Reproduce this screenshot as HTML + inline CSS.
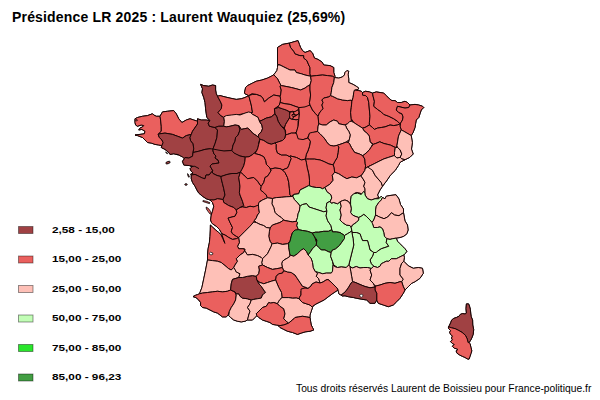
<!DOCTYPE html>
<html><head><meta charset="utf-8"><style>
html,body{margin:0;padding:0;background:#fff;width:600px;height:400px;overflow:hidden}
body{position:relative;font-family:"Liberation Sans",sans-serif}
.t{position:absolute;left:12px;top:9px;font-size:14px;letter-spacing:0.17px;font-weight:bold;color:#000;white-space:nowrap}
.f{position:absolute;left:296px;top:383px;font-size:10.3px;color:#000;white-space:nowrap}
.lg{position:absolute;left:52px;font-size:9.8px;font-weight:bold;color:#000;white-space:nowrap;transform:scaleX(1.2);transform-origin:0 0}
svg{position:absolute;left:0;top:0}
</style></head><body>
<svg width="600" height="400" viewBox="0 0 600 400">
<g stroke="#1a0505" stroke-width="1" stroke-linejoin="round">
<g fill="#000"><path d="M135,118.75 L137.5,117.5 L142.5,116.25 L147.5,115.6 L152.5,113.75 L153.75,115 L156.25,116.25 L160,116.25 L160.6,120 L161.25,126.25 L161.25,131.25 L158.1,134.4 L159.4,137.5 L161.9,140 L163.1,142.5 L161.9,145.6 L158.75,145 L155,144.4 L151.25,143.1 L147.5,142.5 L145,140 L142.5,137.5 L137.5,135.6 L135,135 L140,134.4 L144.4,133.75 L145,131.25 L141.9,129.4 L138.75,130 L140,128.1 L142.5,126.9 L143.75,125.6 L141.25,125 L137.5,126.25 L135.6,125 L135,122.5Z"/><path d="M160,116.25 L162.5,111.9 L167.5,111.25 L173.75,110.6 L176.25,113.75 L178.75,118.75 L181.9,122.5 L186.25,120 L190,118.75 L193.75,120 L197.5,121.25 L197.5,124 L192.5,131.25 L191.25,134.4 L186.25,135.6 L182.5,138.1 L177.5,136.25 L172.5,134.4 L165,133.1 L160,133.75 L158.1,134.4 L161.25,131.25 L161.25,126.25 L160.6,120Z"/><path d="M158.1,134.4 L160,133.75 L165,133.1 L172.5,134.4 L177.5,136.25 L182.5,138.1 L186.25,135.6 L191.25,134.4 L190,137.5 L190.6,140.6 L193.1,143.75 L193.75,148.75 L193.1,151.9 L192.5,156.25 L188.75,158.1 L185,157.5 L184.4,158.75 L182.5,156.9 L178.75,155 L173.75,153.75 L170,154.4 L168.75,152.5 L165,149.4 L161.25,147.5 L161.9,145.6 L163.1,142.5 L161.9,140 L159.4,137.5Z"/><path d="M197.5,118.75 L201.25,120 L206.25,120 L210,120.6 L208.1,123.1 L209.4,126.25 L215,127.5 L217.5,130 L216.9,137.5 L215,143.75 L212.5,150 L210,148.75 L205,149.4 L198.75,151.25 L193.1,152.5 L193.75,148.75 L193.1,143.75 L190.6,140.6 L190,137.5 L191.25,134.4 L192.5,131.25 L197.5,124Z"/><path d="M200.6,84.4 L203.75,85.6 L208.75,86.25 L212.5,85 L215.6,85.6 L215.6,90 L216.25,93.75 L217.5,96.25 L220.6,101.9 L221.9,105 L221.25,108.75 L218.1,112.5 L220,115 L223.75,117.5 L224.4,121.25 L223.75,126.25 L218.75,126.25 L215,127.5 L209.4,126.25 L208.1,123.1 L210,120.6 L206.9,117.5 L206.25,113.75 L205.6,108.75 L205,102.5 L203.75,97.5 L201.9,92.5 L202.5,88.75Z"/><path d="M217.5,96.25 L220,95.6 L225,96.9 L230,98.1 L236.25,99.4 L241.25,98.75 L245,97.5 L248.75,95.6 L251.25,105 L252.5,112.5 L250,112.5 L246.25,113.1 L240,114.4 L233.75,115.6 L227.5,116.25 L223.75,117.5 L220,115 L218.1,112.5 L221.25,108.75 L221.9,105 L220.6,101.9Z"/><path d="M277.5,47.5 L282.5,44.4 L289.4,43.1 L290.6,47.5 L293.75,51.25 L295,53.75 L300,55.6 L303.75,55.6 L303.75,58.1 L306.9,60.6 L308.75,65 L310,67.5 L310,73.75 L310.6,76.25 L305,75 L301.25,73.75 L296.25,72.5 L295,70 L290,70 L287.5,68.75 L283.75,66.9 L280,65 L277.5,64.4 L277.5,56Z"/><path d="M289.4,43.1 L298,40.6 L299.4,44.4 L300.6,47.5 L302.5,50.6 L305,52.5 L310,50.6 L312.5,53 L314.4,58 L318,59.4 L322,62 L323.75,65 L330,65.6 L333.75,67.5 L333.75,72.5 L335,76.25 L334.4,77.5 L332.5,76.25 L327.5,75.6 L322.5,75 L316.25,75.6 L310.6,76.25 L310,73.75 L310,67.5 L308.75,65 L306.9,60.6 L303.75,58.1 L303.75,55.6 L300,55.6 L295,53.75 L293.75,51.25 L290.6,47.5Z"/><path d="M277.5,65 L280,65 L283.75,66.9 L287.5,68.75 L290,70 L295,70 L296.25,72.5 L301.25,73.75 L305,75 L310.6,76.25 L311.25,80.6 L310,85 L307.5,86.25 L305,88.1 L300.6,90 L296.25,88.75 L291.25,87.5 L285,86.25 L281.25,85.6 L280,83.75 L277.5,78.75 L273.75,74.75 L276.9,70.6 L277.5,67.5Z"/><path d="M244.4,93.1 L245.6,87.5 L247.5,85.6 L252.5,83.1 L256.25,81.25 L261.9,80 L267.5,78.1 L271.25,76.25 L273.75,74.75 L277.5,78.75 L280,83.75 L281.25,85.6 L280,86.25 L281.25,90 L280.6,95 L280,96.25 L273.75,95 L268.75,98.1 L264.4,101.9 L263.1,98.75 L261.25,96.25 L256.25,94.4 L251.9,93.75 L248.75,95.6 L245,93.75Z"/><path d="M281.25,85.6 L285,86.25 L291.25,87.5 L296.25,88.75 L300.6,90 L305,88.1 L307.5,86.25 L310,85 L310,90 L310.6,95 L310,100 L309.4,102.5 L310,106.25 L307.5,107.5 L302.5,108.1 L298.75,107.5 L295,106.25 L290,104.4 L285,103.75 L280,102.5 L280.6,99.4 L280,96.25 L280.6,95 L281.25,90 L280,86.25Z"/><path d="M248.75,95.6 L252.5,94.4 L256.25,94.4 L261.25,96.25 L263.1,98.75 L264.4,101.9 L268.75,98.1 L273.75,95 L280,96.25 L280.6,99.4 L280,102.5 L279.4,105 L278.1,106.25 L274.4,108.75 L275,113.75 L271.25,116.9 L266.25,118.1 L262.5,120 L259.4,121.25 L258.1,117.5 L255,115.6 L252.5,114.4 L250.6,112.5 L252.5,112.5 L251.25,105Z"/><path d="M223.75,116.9 L226.25,115.6 L231.25,115 L236.25,114.4 L240,115 L245,113.1 L248.75,111.9 L250.6,112.5 L252.5,114.4 L255,115.6 L258.1,117.5 L259.4,121.25 L261.9,125 L262.5,128.75 L261.25,131.9 L258.75,134.4 L258.1,136.9 L256.25,135.6 L252.5,133.1 L250,130 L247.5,128.1 L244.4,128.75 L241.25,129.4 L238.75,125.6 L235,125 L230,126.25 L226.25,126.9 L223.75,126.25 L224.4,121.25Z"/><path d="M218.75,126.25 L223.75,126.25 L226.25,126.9 L230,126.25 L235,125 L238.75,125.6 L240,130 L238.1,135 L235.6,137.5 L235,141.25 L233.1,145 L231.9,150.6 L230,150.6 L223.75,151.25 L217.5,150.6 L212.5,150 L215,143.75 L216.9,137.5 L217.5,130 L215,127.5Z"/><path d="M238.75,125.6 L241.25,129.4 L244.4,128.75 L247.5,128.1 L250,130 L252.5,133.1 L256.25,135.6 L258.1,136.9 L260,138.75 L258.75,142.5 L258.1,147.5 L256.25,151.25 L254.25,153 L252.75,154.5 L249,156.75 L245.25,157.1 L240,156 L236.25,154.5 L232.5,152.25 L231.9,150.6 L233.1,145 L235,141.25 L235.6,137.5 L238.1,135 L240,130Z"/><path d="M274.4,108.75 L278.75,107.5 L282.5,108.75 L286.25,110 L289.4,111.9 L290,115 L289.4,118.1 L287.5,121.25 L285.6,124.4 L284.4,128.1 L281.25,126.25 L278.1,121.25 L276.9,116.9 L275,113.75Z"/><path d="M279.4,105 L280,102.5 L285,103.75 L290,104.4 L295,106.25 L298.75,107.5 L298.1,110 L295,111.9 L292.5,111.25 L290,111.9 L286.25,110 L282.5,108.75 L278.75,107.5 L278.1,106.25Z"/><path d="M289.4,118.1 L292.5,119.3 L296,119.7 L299.2,119.5 L298.75,120 L298.1,121.25 L298.1,126.25 L296.9,131.25 L295,133.1 L291.25,133.1 L287.5,134.4 L285.6,135 L285.6,131.25 L284.4,128.1 L285.6,124.4 L287.5,121.25Z"/><path d="M290,112.2 L292,111.8 L293.5,112 L294,114 L293.6,117 L292.5,119.3 L290,118.5 L289.6,115.5Z"/><path d="M293.5,112 L295,111.5 L297,110.5 L298.7,109.5 L299,113 L297,115 L295.2,114.8 L294,114Z"/><path d="M293.6,117 L295,116.3 L297,115 L299,113.5 L299.3,116 L299.2,119.5 L296,119.7 L292.5,119.3Z"/><path d="M292,114.6 L294,114.2 L295.3,115 L294.8,116.3 L293,116.4 L291.8,115.6Z"/><path d="M298.75,107.5 L300,107.5 L305,106.9 L310,105 L312.5,110 L315.6,113.75 L318.1,116.25 L318.75,123.75 L318.1,126.25 L317.5,131.25 L313.75,132.5 L309.4,133.75 L307.5,138.1 L302.5,140 L298.75,139.4 L296.9,137.5 L296.25,132.5 L298.1,126.25 L298.75,120 L299.4,113.75Z"/><path d="M310.6,76.25 L316.25,75.6 L322.5,75 L327.5,75.6 L332.5,76.25 L334.4,77.5 L333.75,82.5 L331.9,87.5 L331.25,92.5 L330.6,95.6 L328.75,96.9 L323.75,98.1 L321.9,100 L323.1,102.5 L321.9,105 L323.1,108.75 L321.25,110.6 L319.4,113.1 L318.1,116.25 L315.6,113.75 L312.5,110 L310,105 L309.4,102.5 L310,100 L310.6,95 L310,90 L310,85 L311.25,80.6Z"/><path d="M330.6,95.6 L332.5,96.25 L337.5,98.75 L342.5,100 L347.5,100.6 L351.25,100 L351.9,101.25 L351.25,107.5 L350.6,112.5 L351.25,118.75 L351.25,121.25 L347.5,123.75 L345,125 L338.75,123.75 L337.5,121.25 L333.75,120 L330,121.9 L326.25,125 L322.5,125 L318.75,123.75 L318.1,116.25 L319.4,113.1 L321.25,110.6 L323.1,108.75 L321.9,105 L323.1,102.5 L321.9,100 L323.75,98.1 L328.75,96.9Z"/><path d="M334.4,77.5 L338.75,78.1 L342.5,76.9 L344.4,75 L345,72.5 L346.9,70.6 L348.75,71.25 L348.1,74.4 L348.75,78.75 L348.75,82.5 L353.1,84.4 L356.25,86.25 L358.75,88.1 L358.1,89.4 L355,90 L353.75,92.5 L353.1,97.5 L351.9,101.25 L351.25,100 L347.5,100.6 L342.5,100 L337.5,98.75 L332.5,96.25 L330.6,95.6 L331.25,92.5 L331.9,87.5 L333.75,82.5Z"/><path d="M354.4,90 L358.75,90.6 L361.25,91.25 L362.5,92.5 L362.5,95 L365.6,95.6 L367.5,97.5 L368.75,102.5 L369.4,110 L370,116.25 L369.4,122.5 L369.4,125 L365,127.5 L362.5,128.1 L357.5,125 L353.75,122.5 L351.25,118.75 L350.6,112.5 L351.25,107.5 L351.9,101.25 L353.1,97.5 L353.75,92.5Z"/><path d="M362.5,92.5 L365.6,91.25 L369.4,91.9 L372.5,93.1 L373.1,96.25 L374.4,101.25 L373.75,106.25 L377.5,109.4 L381.25,111.9 L383.75,114.4 L388.75,116.25 L393.75,118.75 L397.5,121.25 L400,123.75 L397.5,125 L393.75,125.6 L390,125 L385,126.9 L381.25,127.5 L377.5,128.1 L374.4,129.4 L372.5,127.5 L369.4,125 L369.4,122.5 L370,116.25 L369.4,110 L368.75,102.5 L367.5,97.5 L365.6,95.6 L362.5,95Z"/><path d="M372.5,93.1 L376.25,91.9 L380,92.5 L383.75,93.1 L386.25,95.6 L389.4,98.75 L391.9,100.6 L395,100.6 L397.5,102.5 L401.25,102.5 L405,101.25 L407.5,102.5 L410,105 L408.75,107.5 L405,108.1 L400,106.9 L397.5,106.25 L396.25,110 L398.75,112.5 L401.9,113.75 L403.1,116.9 L402.5,120 L400.6,123.1 L400,123.75 L397.5,121.25 L393.75,118.75 L388.75,116.25 L383.75,114.4 L381.25,111.9 L377.5,109.4 L373.75,106.25 L374.4,101.25 L373.1,96.25Z"/><path d="M410,105 L415,104.4 L418.75,105 L422.5,106.25 L423.75,107.5 L421.25,110 L420,113.75 L418.75,117.5 L416.25,120 L415.6,123.75 L415,127.5 L413.1,132.5 L411.25,135.6 L408.1,133.75 L403.75,131.25 L401.25,130 L400,126.25 L400.6,123.1 L402.5,120 L403.1,116.9 L401.9,113.75 L398.75,112.5 L396.25,110 L397.5,106.25 L400,106.9 L405,108.1 L408.75,107.5Z"/><path d="M362.5,128.1 L365,127.5 L369.4,125 L372.5,127.5 L374.4,129.4 L377.5,128.1 L381.25,127.5 L385,126.9 L390,125 L393.75,125.6 L397.5,125 L400,123.75 L400,126.25 L401.25,130 L401,130.4 L398.5,136.1 L397.7,141 L396.9,145.9 L395.3,147.5 L390.4,145.1 L387.2,144.3 L383.9,143.5 L379.8,141.8 L375.8,143.5 L373.3,144.3 L370.1,141.8 L369.3,136.1 L366.8,132.9 L364.4,131.3Z"/><path d="M345.7,125.6 L345,125 L347.5,123.75 L349.8,121.5 L351.25,121.25 L353.75,122.5 L357.5,125 L362.5,128.1 L362.8,128.8 L364.4,131.3 L366.8,132.9 L369.3,136.1 L370.1,141.8 L372.5,144.3 L370.9,147.5 L369.3,150 L366,153.2 L362.8,155.7 L359.5,154 L354.6,152.4 L351.4,147.5 L349.8,144.3 L348.5,142.5 L349.3,139.6 L350.2,134.8 L348.75,131.25 L346.5,128Z"/><path d="M318.75,123.75 L322.5,125 L326.25,125 L330,121.9 L333.75,120 L337.5,121.25 L338.75,123.75 L345,125 L345.7,125.6 L346.5,128 L348.75,131.25 L350.2,134.8 L349.3,139.6 L346.1,142.1 L342,143.7 L337.2,145.3 L333.9,146.1 L329.8,145.3 L327.4,142.9 L324.1,138 L320.1,133.9 L317.6,131.5 L318.1,126.25Z"/><path d="M337.2,145.3 L342,143.7 L346.1,142.1 L348.5,142.5 L349.8,144.3 L351.4,147.5 L354.6,152.4 L359.5,154 L362.8,155.7 L364.8,159.1 L365.2,163.8 L365.6,165.7 L365.2,168.7 L364.8,170.5 L361.5,175.4 L356.7,177.8 L351.8,177 L346.9,178.7 L343.7,177 L338.8,173.8 L334.7,172.2 L333.9,167.3 L333.1,164.8 L334.7,161.6 L337.2,157.5 L338,152.6 L338.8,147Z"/><path d="M362.8,155.7 L366,153.2 L369.3,150 L370.9,147.5 L373.3,144.3 L375.8,143.5 L379.8,141.8 L383.9,143.5 L387.2,144.3 L390.4,145.1 L395.3,147.5 L394.5,152.4 L394.5,155.7 L393.7,155.7 L388.8,157.3 L383.9,158.9 L379,161.3 L374.1,163.8 L370.9,165.4 L367.6,167 L365.2,168.7 L365.6,165.7 L365.2,163.8 L364.8,159.1Z"/><path d="M395.3,147.5 L397.7,147.5 L400.2,150 L401.8,154 L400.2,157.3 L396.9,158.1 L394.5,155.7 L394.5,152.4Z"/><path d="M401.25,130 L403.75,131.25 L408.1,133.75 L411.25,135.6 L412.4,142.6 L411.5,149.1 L413.2,154 L409.9,157.3 L405,159.7 L401.8,158.9 L400.2,157.3 L401.8,154 L400.2,150 L397.7,147.5 L396.9,145.9 L397.7,141 L398.5,136.1 L401,130.4Z"/><path d="M309.5,133.1 L312.8,132.3 L317.6,131.5 L320.1,133.9 L324.1,138 L327.4,142.9 L329.8,145.3 L333.9,146.1 L337.2,145.3 L338.8,147 L338,152.6 L337.2,157.5 L334.7,161.6 L333.1,164.8 L329,164 L324.1,161.6 L320.1,160 L314.4,159.1 L309.5,159.1 L305.4,159.1 L306.3,154.3 L307.9,151 L309.5,146.1 L310.3,141.3 L307.9,138Z"/><path d="M305.4,159.1 L309.5,159.1 L314.4,159.1 L320.1,160 L324.1,161.6 L329,164 L333.1,164.8 L333.9,167.3 L334.7,172.2 L332.3,175.4 L333.1,180.3 L329.8,184.3 L325.8,186.8 L325,187.5 L322.5,188.75 L320,187.5 L316.25,187.5 L312.5,186.9 L308.75,185.6 L309.4,185 L309.5,180.3 L308.7,173.8 L307.1,167.3 L306.3,162.4Z"/><path d="M260,121.25 L262.5,120 L266.25,118.1 L271.25,116.9 L275,113.75 L276.9,116.9 L278.1,121.25 L281.25,126.25 L283.75,128.75 L285,130.5 L285.6,134.25 L285,138 L282.5,140.5 L278.75,141.75 L275,143 L271.25,144.25 L267.5,143 L263.75,140.5 L260,139.25 L260,138.75 L258.1,136.9 L258.75,134.4 L261.25,131.9 L262.5,128.75 L261.9,125 L259.4,121.25Z"/><path d="M260,139.25 L263.75,140.5 L267.5,143 L271.25,144.25 L275,143 L276.25,144.25 L276.25,149.25 L277.5,153 L281.25,154.9 L286.25,154.9 L290,156.75 L291.25,158.6 L290,161.75 L288.75,165.5 L287.5,168 L282.5,169.9 L280,168.6 L275,168 L270,169.25 L270,168 L266.25,164.25 L265.6,160.5 L263.75,156.75 L260,154.9 L255,153.6 L257.5,149.25 L258.75,144.25Z"/><path d="M275,143 L278.75,141.75 L282.5,140.5 L285,138 L285.6,135 L287.5,134.4 L291.25,133.1 L295,133.1 L296.5,133.5 L298.1,138.8 L303,139.6 L307.9,138 L310.3,141.3 L309.5,146.1 L307.9,151 L306.3,154.3 L305.4,159.1 L301.4,160 L296.5,157.5 L290,155.9 L290,156.75 L286.25,154.9 L281.25,154.9 L277.5,153 L276.25,149.25 L276.25,144.25Z"/><path d="M182.5,161.25 L184.4,158.75 L185,157.5 L188.75,158.1 L192.5,156.25 L193.1,152.5 L198.75,151.25 L205,149.4 L210,148.75 L213,149 L213,151 L214,154 L216,156 L215,158 L218,160 L219,163 L212,164 L210,166 L213,171 L212,171.5 L209,175 L206,175 L205,178.75 L202.5,178.1 L198.75,176.25 L195,174.4 L191.25,175 L190.6,174.4 L193.1,173.1 L191.25,171.25 L190,168.75 L192.5,166.25 L189.4,165.6 L183.75,165Z"/><path d="M213,149 L218,150 L224,151 L230,150.6 L231.9,150.6 L234,153 L237,154.5 L240,156 L245.25,157.1 L244.9,161.25 L243.75,165.75 L241.9,169.5 L240.4,172.1 L237,173.5 L232,173.5 L227,174.5 L221,176.5 L217,175.5 L213,173.5 L212,171.5 L213,171 L210,166 L212,164 L219,163 L218,160 L215,158 L216,156 L214,154 L213,151Z"/><path d="M191.25,175 L195,174.4 L198.75,176.25 L202.5,178.1 L205,178.75 L206,175 L209,175 L212,171.5 L213,173.5 L217,175.5 L221,176.5 L221.25,178.75 L222.5,183.75 L223.75,188.75 L225,195 L223,199.5 L217.5,198.75 L213.75,200 L210,200 L206.25,198.75 L202.5,196.25 L198.75,193.1 L196.9,190 L195,186.25 L192.5,182.5 L191.25,178.75Z"/><path d="M221,176.5 L227,174.5 L232,173.5 L237,173.5 L240.4,172.1 L238.75,177.5 L240,186.25 L239.4,192.5 L240,195 L242.5,201.25 L243.75,205.6 L240,207.5 L236.25,210 L233.75,207.5 L228.75,205.6 L223.75,202.5 L223,199.5 L225,195 L223.75,188.75 L222.5,183.75 L221.25,178.75Z"/><path d="M245.25,157.1 L249,156.75 L252.75,154.5 L254.25,153 L255,153.6 L260,154.9 L263.75,156.75 L265.6,160.5 L266.25,164.25 L270,168 L270,169.25 L271.25,170 L270,172.5 L267.5,176.25 L265,177.5 L263.75,182.5 L261.25,186.25 L260,185 L257.5,181.25 L253.75,177.5 L247.5,178.75 L243.75,175 L240.4,172.1 L241.9,169.5 L243.75,165.75 L244.9,161.25Z"/><path d="M240.4,172.1 L243.75,175 L247.5,178.75 L253.75,177.5 L257.5,181.25 L260,185 L261.25,186.25 L260.6,190 L263.75,192.5 L266.25,195 L267.5,197.8 L263.75,199.4 L260,201.25 L258.75,203.75 L258.5,205 L257.5,206.25 L253.75,206.9 L250,206.25 L246.25,207.5 L242.5,206.9 L243.75,205.6 L242.5,201.25 L240,195 L239.4,192.5 L240,186.25 L238.75,177.5Z"/><path d="M210,200 L213.75,200 L217.5,198.75 L223,199.5 L223.75,202.5 L228.75,205.6 L233.75,207.5 L236.25,210 L236.9,212.5 L235,216.25 L230,217.5 L228.1,218.1 L230,222.5 L232.5,227.5 L231.25,231.25 L232.5,233.75 L236.25,236.25 L238.75,237.5 L236.25,238.75 L232.5,239.4 L228.75,237.5 L225,235 L221.9,233.75 L221.25,232.5 L219.4,229.4 L216.25,226.25 L212.5,223.75 L211.5,222.5 L210.6,220 L211.25,215 L212.5,211.25 L213.75,206.25 L212.5,202.5Z"/><path d="M236.25,210 L240,207.5 L242.5,206.9 L246.25,207.5 L250,206.25 L253.75,206.9 L258.5,205 L258.75,208.75 L259.4,212.5 L257.5,215 L256.25,218.1 L254.4,220.6 L253.75,222 L250,226.25 L245,231.25 L241.25,235 L238.75,237.5 L236.25,236.25 L232.5,233.75 L231.25,231.25 L232.5,227.5 L230,222.5 L228.1,218.1 L230,217.5 L235,216.25 L236.9,212.5Z"/><path d="M270,169.25 L275,168 L280,168.6 L282.5,169.9 L285,172.5 L287.5,177.5 L288.75,182.5 L289.4,188.75 L290,195 L291.25,196.25 L292.8,196.4 L290,196.6 L286.25,196.8 L281.25,197.3 L276.25,197.6 L272.5,198.5 L267.5,197.8 L266.25,195 L263.75,192.5 L260.6,190 L261.25,186.25 L263.75,182.5 L265,177.5 L267.5,176.25 L270,172.5 L271.25,170Z"/><path d="M290,156.75 L290,155.9 L296.5,157.5 L301.4,160 L305.4,159.1 L306.3,162.4 L307.1,167.3 L308.7,173.8 L309.5,180.3 L309.4,185 L308.75,185.6 L305,187.5 L300,190 L298.75,193.75 L293.75,194.4 L291.25,196.25 L290,195 L289.4,188.75 L288.75,182.5 L287.5,177.5 L285,172.5 L282.5,169.9 L287.5,168 L288.75,165.5 L290,161.75 L291.25,158.6Z"/><path d="M292.8,196.4 L293.75,194.4 L298.75,193.75 L300,190 L305,187.5 L308.75,185.6 L312.5,186.9 L316.25,187.5 L320,187.5 L322.5,188.75 L325,187.5 L326.9,191.5 L331,194.8 L331.8,198 L330.2,201.3 L326.9,202.9 L326.1,207.8 L326.9,211 L323.7,211.8 L318.8,210.2 L313.9,208.6 L309,207 L306.6,203.7 L302.5,204.5 L300.1,206.1 L297.6,202.9 L294.4,199.6Z"/><path d="M272.5,198.5 L276.25,197.6 L281.25,197.3 L286.25,196.8 L290,196.6 L292.8,196.4 L294.4,199.6 L297.6,202.9 L300.1,206.1 L299.3,211 L298.1,213.75 L297.5,217.5 L296.25,221.25 L292.5,221.9 L288.75,221.25 L285,220.6 L283.75,220 L281.25,217.5 L277.5,215 L275,212.5 L273.75,207.5 L271.9,203.75Z"/><path d="M258.75,202.5 L262.5,200 L267.5,197.8 L272.5,198.5 L271.9,203.75 L273.75,207.5 L275,212.5 L277.5,215 L281.25,217.5 L283.75,220 L280,222.5 L276.25,223.75 L272.5,225 L270,228.1 L266.25,227.5 L263.75,225.6 L260,224.4 L256.25,222.5 L254.4,220.6 L256.25,218.1 L257.5,215 L259.4,212.5 L258.75,208.75 L258.5,205Z"/><path d="M283.75,220 L285,220.6 L288.75,221.25 L292.5,221.9 L296.25,221.25 L297.6,222.4 L296.8,225.7 L298.5,229.7 L295,230.5 L292.5,232.5 L291.25,236.25 L290,241.25 L287.5,243.75 L282.5,244.4 L277.5,243.1 L272.5,243.75 L271.9,243.75 L270,241.25 L268.75,236.25 L269.4,231.25 L270,228.1 L272.5,225 L276.25,223.75 L280,222.5Z"/><path d="M253.75,222 L256.25,222.5 L260,224.4 L263.75,225.6 L266.25,227.5 L270,228.1 L269.4,231.25 L268.75,236.25 L270,241.25 L271.9,243.75 L271.25,246.25 L269.4,250 L267.5,253.75 L265,256.25 L262.5,258.75 L261.25,257.5 L257.5,255.6 L252.5,254.4 L247.5,255 L245,251.25 L243.75,248.75 L238.75,248.75 L237.5,246.25 L239.4,242.5 L238.75,238.75 L238.75,237.5 L241.25,235 L245,231.25 L250,226.25Z"/><path d="M300.1,206.1 L302.5,204.5 L306.6,203.7 L309,207 L313.9,208.6 L318.8,210.2 L323.7,211.8 L326.9,211 L326.1,215.9 L327.7,220.8 L331,225.7 L331.8,229.7 L328.5,231.3 L323.7,231.3 L318.8,232.2 L315.5,232.2 L312.3,233 L307.4,231.3 L302.5,230.5 L298.5,229.7 L296.8,225.7 L297.6,222.4 L296.25,221.25 L297.5,217.5 L298.1,213.75 L299.3,211Z"/><path d="M326.9,202.9 L330.2,201.3 L331.25,203.1 L333.75,202.5 L337.5,203.75 L340,201.9 L341.25,206.25 L340,210 L341.25,215 L340,220 L342.5,222.5 L346.25,225 L350,225.6 L351.25,227.5 L351.9,231 L347.5,233.75 L344.5,235.5 L340,232.5 L336.25,231.9 L332.5,231.9 L331.8,229.7 L331,225.7 L327.7,220.8 L326.1,215.9 L326.9,211 L326.1,207.8Z"/><path d="M210.4,225 L212.6,227.2 L215.6,229.9 L218.6,232.4 L220.9,234.6 L222.8,238.6 L224.9,243.4 L223.3,238.6 L222.3,235.8 L221.9,233.75 L225,235 L228.75,237.5 L232.5,239.4 L236.25,238.75 L238.75,237.5 L238.75,238.75 L239.4,242.5 L237.5,246.25 L238.75,248.75 L243.75,248.75 L245,249.4 L243.75,252.5 L240,255 L236.25,258.75 L237.5,261.25 L235,265 L233.75,267.5 L231.25,270 L228.75,268.75 L225,265.6 L221.25,262.5 L217.5,261.25 L212.5,260.6 L207.5,260 L207.5,255 L208.1,248.75 L209.4,242.5 L210,236.25 L210.3,230Z"/><path d="M207.5,260 L212.5,260.6 L217.5,261.25 L221.25,262.5 L225,265.6 L228.75,268.75 L231.25,270 L233.75,267.5 L235,269.4 L236.25,271.9 L240,273.75 L238.75,277.5 L232.5,279.4 L231.25,283.75 L230.6,290 L227.5,291.25 L222.5,291.9 L217.5,291.25 L212.5,291.9 L207.5,292.5 L202.5,293.1 L199.5,293.75 L201.9,287.5 L203.75,278.75 L205.6,270Z"/><path d="M199.5,293.75 L202.5,293.1 L207.5,292.5 L212.5,291.9 L217.5,291.25 L222.5,291.9 L227.5,291.25 L230.6,290 L235,291.9 L236.25,295 L235.6,300 L233.75,303.75 L231.25,307.5 L229.4,311.25 L228.1,315 L226.25,316.9 L222.5,316.9 L220,315 L217.5,313.1 L213.75,311.9 L210,310 L206.25,308.1 L202.5,307.5 L200.6,305.6 L200.6,302.5 L198.75,300 L196,297.6 L193,296.6 L195.5,295.3 L197.5,294.6Z"/><path d="M235,291.9 L236.25,293.75 L238.75,293.75 L240,296.25 L242.5,298.1 L247.5,298.75 L251.25,300 L250,303.75 L247.5,307.5 L250,311.25 L248.75,315 L247.5,320 L245,321.25 L241.25,321.9 L237.5,321.25 L233.75,320 L230.6,317.5 L228.75,315.6 L229.4,311.25 L231.25,307.5 L233.75,303.75 L235.6,300 L236.25,295Z"/><path d="M232.5,279.4 L238.75,277.5 L242.5,277.5 L247.5,276.25 L252.5,275.6 L256.25,276.25 L256.9,280 L258.75,283.75 L261.25,286.25 L263.75,290 L265.6,292.5 L263.75,293.75 L262.5,295 L261.25,298.1 L257.5,298.75 L253.75,299.4 L251.25,300 L247.5,298.75 L242.5,298.1 L240,296.25 L238.75,293.75 L236.25,293.75 L235,291.9 L230.6,290 L231.25,283.75Z"/><path d="M243.75,248.75 L245,251.25 L247.5,255 L252.5,254.4 L257.5,255.6 L261.25,257.5 L262.5,258.75 L262.5,260 L261.9,262.5 L262.5,265 L258.75,266.25 L259.4,270 L258.75,273.75 L256.25,276.25 L252.5,275.6 L247.5,276.25 L242.5,277.5 L238.75,277.5 L240,273.75 L236.25,271.9 L235,269.4 L233.75,267.5 L235,265 L237.5,261.25 L236.25,258.75 L240,255 L243.75,252.5 L245,249.4Z"/><path d="M271.9,243.75 L272.5,243.75 L277.5,243.1 L282.5,244.4 L287.5,243.75 L288.6,243.5 L288.75,247.5 L290,255 L290,256.25 L287.5,258.1 L285,259.4 L282.5,261.25 L281.9,263.75 L282.5,267.5 L280,268.1 L276.25,268.75 L272.5,269.4 L267.5,267.5 L262.5,265 L261.9,262.5 L262.5,260 L262.5,258.75 L265,256.25 L267.5,253.75 L269.4,250 L271.25,246.25Z"/><path d="M258.75,266.25 L262.5,265 L267.5,267.5 L272.5,269.4 L276.25,268.75 L280,268.1 L282.5,267.5 L283.75,270.6 L282.5,273.1 L278.75,273.75 L276.25,276.25 L275.6,280 L271.25,281.25 L267.5,282.5 L263.75,283.75 L260,282.5 L256.9,280 L256.25,276.25 L258.75,273.75 L259.4,270Z"/><path d="M283.75,270.6 L287.5,271.9 L291.25,272.5 L295,275 L297.5,278.75 L300,282.5 L302.5,286.25 L306.25,287.5 L305,288 L301,291 L301,295 L300,296.25 L299.5,298.8 L296.25,298 L292.5,298.2 L288.75,297.6 L285,297.6 L282,297.6 L281.5,292.5 L278.75,287.5 L275.6,280 L276.25,276.25 L278.75,273.75 L282.5,273.1Z"/><path d="M258.75,283.75 L260,282.5 L263.75,283.75 L267.5,282.5 L271.25,281.25 L275.6,280 L278.75,287.5 L281.5,292.5 L282,297.6 L280,299.5 L278.75,301.25 L277.5,303.75 L273.75,302.5 L270.6,303.1 L268.75,302.5 L266.25,306.25 L262.5,307.5 L260,310 L256.25,313.75 L256.9,315.6 L255,317.5 L252.5,320 L247.5,320 L248.75,315 L250,311.25 L247.5,307.5 L250,303.75 L251.25,300 L253.75,299.4 L257.5,298.75 L261.25,298.1 L262.5,295 L263.75,293.75 L265.6,292.5 L263.75,290 L261.25,286.25Z"/><path d="M256.25,313.75 L260,310 L262.5,307.5 L266.25,306.25 L268.75,302.5 L270.6,303.1 L273.75,302.5 L277.5,303.75 L280,306.25 L283.75,308.75 L285,313.75 L283.75,318.75 L286.25,321.25 L288.75,323.1 L283.75,325 L280,325.6 L276.25,325 L272.5,324.4 L270,322.5 L266.25,321.25 L262.5,320 L258.75,317.5 L256.9,315.6Z"/><path d="M277.5,303.75 L278.75,301.25 L280,299.5 L282,297.6 L285,297.6 L288.75,297.6 L292.5,298.2 L296.25,298 L299.5,298.8 L300,300 L302.5,302.5 L306.25,303.75 L310,305 L312.5,307.5 L311.25,311.25 L310,315 L310,317.5 L306.25,316.9 L302.5,316.25 L298.75,316.9 L295,317.5 L292.5,320 L290,321.9 L288.75,323.1 L286.25,321.25 L283.75,318.75 L285,313.75 L283.75,308.75 L280,306.25Z"/><path d="M288.75,323.1 L290,321.9 L292.5,320 L295,317.5 L298.75,316.9 L302.5,316.25 L306.25,316.9 L310,317.5 L310.6,321.25 L311.25,325 L312.5,327.5 L313.75,330 L310,331.25 L305,331.9 L301.25,333.1 L297.5,334.4 L292.5,332.5 L287.5,331.25 L283.75,329.4 L280,327.5 L278.75,326.25 L280,325.6 L283.75,325Z"/><path d="M298.5,229.7 L302.5,230.5 L307.4,231.3 L312.3,233 L314.7,237 L316.3,241.9 L316.9,240 L316.25,245 L312.5,248.75 L310,252.5 L308.1,255 L306.25,251.25 L303.75,248.75 L301.25,250 L297.5,253.75 L293.75,256.25 L290,255 L288.75,247.5 L288.6,243.5 L290,241.25 L291.25,236.25 L292.5,232.5 L295,230Z"/><path d="M312.3,233 L315.5,232.2 L318.8,232.2 L323.7,231.3 L328.5,231.3 L331.8,229.7 L332.5,231.9 L336.25,231.9 L340,232.5 L344.5,235.5 L344.5,238.5 L342,242 L339.5,245.5 L335.5,249 L332.5,250 L331.25,252.5 L328.75,251.9 L325,250 L321.25,250 L318.75,247.5 L316.25,245 L316.9,240 L314.7,237Z"/><path d="M308.1,255 L310,252.5 L312.5,248.75 L316.25,245 L318.75,247.5 L321.25,250 L325,250 L328.75,251.9 L331.25,252.5 L330.6,256.25 L332.5,261.25 L333.1,265 L332.5,271.25 L331.25,273.1 L326.25,273.1 L322.5,273.75 L318.75,272.5 L315,271.25 L313.1,267.5 L312.5,262.5 L311.25,258.75 L309.4,256.25Z"/><path d="M290,255 L293.75,256.25 L297.5,253.75 L301.25,250 L303.75,248.75 L306.25,251.25 L308.1,255 L309.4,256.25 L311.25,258.75 L312.5,262.5 L313.1,267.5 L315,271.25 L317.5,273.75 L316.25,276.25 L318.75,278.75 L320,283 L316,282 L312,284 L311,286 L308,288.5 L306.25,287.5 L302.5,286.25 L300,282.5 L297.5,278.75 L295,275 L291.25,272.5 L287.5,271.9 L283.75,270.6 L282.5,267.5 L281.9,263.75 L282.5,261.25 L285,259.4 L287.5,258.1 L290,256.25Z"/><path d="M334.7,172.2 L338.8,173.8 L343.7,177 L346.9,178.7 L351.8,177 L356.7,177.8 L361.5,175.4 L361.25,176.25 L363.75,180 L365,182.5 L363.75,186.25 L365,188.75 L365,193.75 L362.5,194.4 L360,193.1 L356.25,192.5 L353.75,193.75 L351.25,196.25 L350.6,200 L350,203.75 L348.1,201.25 L345,200 L342.5,200.6 L340,201.9 L337.5,203.75 L333.75,202.5 L331.25,203.1 L330.2,201.3 L331.8,198 L331,194.8 L326.9,191.5 L325,187.5 L325.8,186.8 L329.8,184.3 L333.1,180.3 L332.3,175.4Z"/><path d="M365.2,168.7 L367.6,167 L370.9,165.4 L372.5,170.3 L375,175.2 L379,180 L381.25,182.5 L382.5,186.25 L380,190 L377.5,195 L378.75,197.5 L375,198.75 L371.25,200 L367.5,198.75 L365,195 L365,193.75 L365,188.75 L363.75,186.25 L365,182.5 L363.75,180 L361.25,176.25 L361.5,175.4 L364.8,170.5Z"/><path d="M367.6,167 L370.9,165.4 L374.1,163.8 L379,161.3 L383.9,158.9 L388.8,157.3 L393.7,155.7 L394.5,155.7 L396.9,158.1 L400.2,157.3 L401.8,158.9 L405,159.7 L400.2,162.2 L398.5,165.4 L395.3,170.3 L390.4,175.2 L387.2,180 L382.5,186.25 L381.25,182.5 L379,180 L375,175.2 L372.5,170.3Z"/><path d="M350.6,200 L351.25,196.25 L353.75,193.75 L357.5,193.1 L361.25,194.4 L363.75,191.25 L365,193.75 L365,195 L367.5,198.75 L371.25,200 L375,198.75 L378.75,198.75 L381.25,196.25 L382.5,197.5 L381.25,200 L378.75,202.5 L376.25,206.25 L375.6,210 L375.6,215 L373.75,220 L371.9,222.5 L370,220 L366.25,216.25 L363.75,214.4 L361.25,216.25 L358.75,217.5 L355,216.25 L352.5,215 L350.6,212.5 L351.25,208.75 L350.6,205Z"/><path d="M340,201.9 L342.5,200.6 L345,200 L348.1,201.25 L350,203.75 L350.6,205 L351.25,208.75 L350.6,212.5 L352.5,215 L355,216.25 L358.75,217.5 L358.75,220 L356.25,222.5 L352.5,225 L351.25,227.5 L350,225.6 L346.25,225 L342.5,222.5 L340,220 L341.25,215 L340,210 L341.25,206.25Z"/><path d="M382.5,197.5 L385,198.75 L386.25,196.25 L390,195.5 L396,194.75 L399,199 L400.5,204.5 L403.5,209 L403.5,212.7 L399,215.7 L394.5,215 L391.5,212.7 L387.7,217 L384,218.7 L379.5,217 L375.6,215 L375.6,210 L376.25,206.25 L378.75,202.5 L381.25,200Z"/><path d="M375.6,215 L379.5,217 L384,218.7 L387.7,217 L391.5,212.7 L394.5,215 L399,215.7 L403.5,212.7 L405,221 L407.5,225 L408.1,230 L406.9,233.75 L403.75,236.25 L400,237.5 L396.25,238.1 L392.5,238.75 L390,239.4 L386.9,238.75 L384.4,236.25 L383.75,232.5 L382.5,228.75 L380,226.9 L377.5,227.5 L373.75,227.5 L372.5,223.75 L371.9,222.5 L373.75,220Z"/><path d="M358.75,220 L358.75,217.5 L361.25,216.25 L363.75,214.4 L366.25,216.25 L370,220 L371.9,222.5 L372.5,223.75 L373.75,227.5 L377.5,227.5 L380,226.9 L382.5,228.75 L383.75,232.5 L384.4,236.25 L386.9,238.75 L386.25,242.5 L388.75,246.25 L385,247.5 L381.25,248.75 L377.5,251.25 L376.25,252.5 L373.75,252.5 L370,250 L368.75,245 L367.5,240.6 L362.5,240.6 L361.25,237.5 L360,233.75 L356.25,232.5 L351.9,232.5 L351.9,231 L351.25,227.5 L352.5,225 L356.25,222.5Z"/><path d="M373.75,252.5 L376.25,252.5 L377.5,251.25 L381.25,248.75 L385,247.5 L388.75,246.25 L386.25,242.5 L386.9,238.75 L390,239.4 L392.5,238.75 L396.25,238.1 L397.5,241.25 L400,243.75 L402.5,246.25 L405,248.75 L406.9,251.25 L405,253.75 L403.75,255 L401.25,256.25 L398.75,257.5 L396.25,258.75 L391.25,258.75 L388.75,261.25 L386.25,261.25 L383.75,262.5 L381.25,263.75 L380,266.25 L377.5,267.5 L373.75,266.25 L371.25,263.75 L370,260 L372.5,256.25Z"/><path d="M351.9,232.5 L356.25,232.5 L360,233.75 L361.25,237.5 L362.5,240.6 L367.5,240.6 L368.75,245 L370,250 L373.75,252.5 L372.5,256.25 L370,260 L371.25,263.75 L373.75,266.25 L371.25,268.5 L367.5,267.5 L363.75,267.5 L360,268 L356.25,266.5 L352.5,268 L348.75,266 L350,260 L351.25,255 L352.5,250 L353.75,245 L353.1,238.75Z"/><path d="M344.5,235.5 L347.5,233.75 L351.9,231 L351.9,232.5 L353.1,238.75 L353.75,245 L352.5,250 L351.25,255 L350,260 L348.75,265 L346.25,267.5 L341.25,266.9 L337.5,267.5 L333.75,265 L332.5,261.25 L330.6,256.25 L331.25,252.5 L332.5,250 L335.5,249 L339.5,245.5 L342,242 L344.5,238.5Z"/><path d="M348.75,266 L352.5,268 L356.25,266.5 L360,268 L363.75,267.5 L367.5,267.5 L371.25,268.5 L370,270 L371.7,275 L370,280 L373.3,283.3 L375,287 L370,287.8 L365,286.5 L360,284.5 L355,282.3 L352.5,281.7 L351.7,276.7 L350.8,271.7 L350,266.7Z"/><path d="M370,270 L371.25,268.5 L373.75,266.25 L377.5,267.5 L380,266.25 L381.25,263.75 L383.75,262.5 L386.25,261.25 L388.75,261.25 L391.25,258.75 L396.25,258.75 L398.75,257.5 L401.25,256.25 L403.75,255 L404.4,257.5 L403.75,261.25 L401.7,263.3 L400,268.3 L400,275 L403.3,279.2 L401.7,281.7 L400,281.7 L395,283.3 L390,282.5 L385,283.3 L380,285 L376.7,285.8 L375,285.8 L373.3,283.3 L370,280 L371.7,275Z"/><path d="M401.7,263.3 L403.75,261.25 L408.3,265.8 L413.3,268.3 L418.3,267.5 L422.5,268.3 L423.3,273.3 L420,278.3 L415,281.7 L411.7,283.3 L408.3,286.7 L405,290 L403.3,286.7 L401.7,281.7 L403.3,279.2 L400,275 L400,268.3Z"/><path d="M376.7,285.8 L380,285 L385,283.3 L390,282.5 L395,283.3 L400,281.7 L401.7,281.7 L403.3,286.7 L405,290 L403.3,293.3 L400,298.3 L396.7,301.7 L393.3,305 L388.3,306.7 L383.3,305 L378.3,303.3 L376.7,300 L376.7,293.3 L375,290 L375,287Z"/><path d="M341,295 L345,292 L348,288 L351,283 L352.5,281.7 L355,282.3 L360,284.5 L365,286.5 L370,287.8 L375,287 L375,290 L376.7,293.3 L376.7,300 L375,303.3 L370,303.3 L366.7,300 L361.7,299.2 L356.7,298.3 L353.3,297.5 L348.3,296.7 L345,295.8 L342,296Z"/><path d="M333.1,265 L335,266.7 L337.5,267.5 L341.25,266.9 L346.25,267.5 L348.75,265 L350,266.7 L350.8,271.7 L351.7,276.7 L352.5,281.7 L351,283 L348,288 L345,292 L341,295 L339,294 L338,290 L337,288 L334,285 L331,282 L328,279.5 L326,280 L323,282 L320,283 L318.75,278.75 L316.25,276.25 L317.5,273.75 L318.75,272.5 L322.5,273.75 L326.25,273.1 L331.25,273.1 L332.5,271.25Z"/><path d="M301,289 L305,288 L308,288.5 L311,286 L312,284 L316,282 L320,283 L323,282 L326,280 L328,279.5 L331,282 L334,285 L337,288 L338,290 L335,292 L332,294 L328,297 L324,300 L320,302 L316,304 L313,306 L312.5,307.5 L310,305 L306.25,303.75 L302.5,302.5 L300,300 L299,298 L301,295 L301,291Z"/><path d="M466.4,303.9 L468.6,303.9 L469.5,306.1 L470.4,309.6 L470.8,314 L471.2,316.6 L472.6,320.1 L472.75,325 L473.7,329.6 L473.2,334.25 L471.8,338 L470.4,340.7 L469,342.6 L468.1,342.6 L467.2,338.9 L465.35,335.2 L462.1,332.4 L458.9,330.55 L455.2,328.7 L451.5,327.8 L448.7,326.85 L448.5,327.1 L449.4,325.4 L450.7,322.7 L451.6,320.1 L453.7,318.4 L456.4,317.5 L459,316.2 L460.3,314.4 L462.5,313.6 L465.1,314 L466.4,313.1 L466,308.7Z"/><path d="M448.7,326.85 L451.5,327.8 L455.2,328.7 L458.9,330.55 L462.1,332.4 L465.35,335.2 L467.2,338.9 L468.1,342.6 L469,342.6 L470,343.5 L470.9,347.2 L471.8,350.9 L470.9,353.7 L470,356.45 L469,359.2 L467.2,358.8 L464.9,357.4 L462.6,356.45 L459.8,355.1 L457,353.2 L456.1,350.9 L458,349.5 L457,349 L454.25,348.1 L452.4,346.3 L454.25,344.4 L452.4,343.5 L450.55,341.65 L452.4,339.8 L451.5,338 L452.4,336.1 L450.55,334.25 L449.6,332.4 L450.55,330.55 L448.7,328.7Z"/></g>
<path fill="#ea605e" d="M135,118.75 L137.5,117.5 L142.5,116.25 L147.5,115.6 L152.5,113.75 L153.75,115 L156.25,116.25 L160,116.25 L160.6,120 L161.25,126.25 L161.25,131.25 L158.1,134.4 L159.4,137.5 L161.9,140 L163.1,142.5 L161.9,145.6 L158.75,145 L155,144.4 L151.25,143.1 L147.5,142.5 L145,140 L142.5,137.5 L137.5,135.6 L135,135 L140,134.4 L144.4,133.75 L145,131.25 L141.9,129.4 L138.75,130 L140,128.1 L142.5,126.9 L143.75,125.6 L141.25,125 L137.5,126.25 L135.6,125 L135,122.5Z"/>
<path fill="#ea605e" d="M160,116.25 L162.5,111.9 L167.5,111.25 L173.75,110.6 L176.25,113.75 L178.75,118.75 L181.9,122.5 L186.25,120 L190,118.75 L193.75,120 L197.5,121.25 L197.5,124 L192.5,131.25 L191.25,134.4 L186.25,135.6 L182.5,138.1 L177.5,136.25 L172.5,134.4 L165,133.1 L160,133.75 L158.1,134.4 L161.25,131.25 L161.25,126.25 L160.6,120Z"/>
<path fill="#a04143" d="M158.1,134.4 L160,133.75 L165,133.1 L172.5,134.4 L177.5,136.25 L182.5,138.1 L186.25,135.6 L191.25,134.4 L190,137.5 L190.6,140.6 L193.1,143.75 L193.75,148.75 L193.1,151.9 L192.5,156.25 L188.75,158.1 L185,157.5 L184.4,158.75 L182.5,156.9 L178.75,155 L173.75,153.75 L170,154.4 L168.75,152.5 L165,149.4 L161.25,147.5 L161.9,145.6 L163.1,142.5 L161.9,140 L159.4,137.5Z"/>
<path fill="#a04143" d="M197.5,118.75 L201.25,120 L206.25,120 L210,120.6 L208.1,123.1 L209.4,126.25 L215,127.5 L217.5,130 L216.9,137.5 L215,143.75 L212.5,150 L210,148.75 L205,149.4 L198.75,151.25 L193.1,152.5 L193.75,148.75 L193.1,143.75 L190.6,140.6 L190,137.5 L191.25,134.4 L192.5,131.25 L197.5,124Z"/>
<path fill="#a04143" d="M200.6,84.4 L203.75,85.6 L208.75,86.25 L212.5,85 L215.6,85.6 L215.6,90 L216.25,93.75 L217.5,96.25 L220.6,101.9 L221.9,105 L221.25,108.75 L218.1,112.5 L220,115 L223.75,117.5 L224.4,121.25 L223.75,126.25 L218.75,126.25 L215,127.5 L209.4,126.25 L208.1,123.1 L210,120.6 L206.9,117.5 L206.25,113.75 L205.6,108.75 L205,102.5 L203.75,97.5 L201.9,92.5 L202.5,88.75Z"/>
<path fill="#ea605e" d="M217.5,96.25 L220,95.6 L225,96.9 L230,98.1 L236.25,99.4 L241.25,98.75 L245,97.5 L248.75,95.6 L251.25,105 L252.5,112.5 L250,112.5 L246.25,113.1 L240,114.4 L233.75,115.6 L227.5,116.25 L223.75,117.5 L220,115 L218.1,112.5 L221.25,108.75 L221.9,105 L220.6,101.9Z"/>
<path fill="#ea605e" d="M277.5,47.5 L282.5,44.4 L289.4,43.1 L290.6,47.5 L293.75,51.25 L295,53.75 L300,55.6 L303.75,55.6 L303.75,58.1 L306.9,60.6 L308.75,65 L310,67.5 L310,73.75 L310.6,76.25 L305,75 L301.25,73.75 L296.25,72.5 L295,70 L290,70 L287.5,68.75 L283.75,66.9 L280,65 L277.5,64.4 L277.5,56Z"/>
<path fill="#ea605e" d="M289.4,43.1 L298,40.6 L299.4,44.4 L300.6,47.5 L302.5,50.6 L305,52.5 L310,50.6 L312.5,53 L314.4,58 L318,59.4 L322,62 L323.75,65 L330,65.6 L333.75,67.5 L333.75,72.5 L335,76.25 L334.4,77.5 L332.5,76.25 L327.5,75.6 L322.5,75 L316.25,75.6 L310.6,76.25 L310,73.75 L310,67.5 L308.75,65 L306.9,60.6 L303.75,58.1 L303.75,55.6 L300,55.6 L295,53.75 L293.75,51.25 L290.6,47.5Z"/>
<path fill="#fec0b7" d="M277.5,65 L280,65 L283.75,66.9 L287.5,68.75 L290,70 L295,70 L296.25,72.5 L301.25,73.75 L305,75 L310.6,76.25 L311.25,80.6 L310,85 L307.5,86.25 L305,88.1 L300.6,90 L296.25,88.75 L291.25,87.5 L285,86.25 L281.25,85.6 L280,83.75 L277.5,78.75 L273.75,74.75 L276.9,70.6 L277.5,67.5Z"/>
<path fill="#ea605e" d="M244.4,93.1 L245.6,87.5 L247.5,85.6 L252.5,83.1 L256.25,81.25 L261.9,80 L267.5,78.1 L271.25,76.25 L273.75,74.75 L277.5,78.75 L280,83.75 L281.25,85.6 L280,86.25 L281.25,90 L280.6,95 L280,96.25 L273.75,95 L268.75,98.1 L264.4,101.9 L263.1,98.75 L261.25,96.25 L256.25,94.4 L251.9,93.75 L248.75,95.6 L245,93.75Z"/>
<path fill="#ea605e" d="M281.25,85.6 L285,86.25 L291.25,87.5 L296.25,88.75 L300.6,90 L305,88.1 L307.5,86.25 L310,85 L310,90 L310.6,95 L310,100 L309.4,102.5 L310,106.25 L307.5,107.5 L302.5,108.1 L298.75,107.5 L295,106.25 L290,104.4 L285,103.75 L280,102.5 L280.6,99.4 L280,96.25 L280.6,95 L281.25,90 L280,86.25Z"/>
<path fill="#ea605e" d="M248.75,95.6 L252.5,94.4 L256.25,94.4 L261.25,96.25 L263.1,98.75 L264.4,101.9 L268.75,98.1 L273.75,95 L280,96.25 L280.6,99.4 L280,102.5 L279.4,105 L278.1,106.25 L274.4,108.75 L275,113.75 L271.25,116.9 L266.25,118.1 L262.5,120 L259.4,121.25 L258.1,117.5 L255,115.6 L252.5,114.4 L250.6,112.5 L252.5,112.5 L251.25,105Z"/>
<path fill="#fec0b7" d="M223.75,116.9 L226.25,115.6 L231.25,115 L236.25,114.4 L240,115 L245,113.1 L248.75,111.9 L250.6,112.5 L252.5,114.4 L255,115.6 L258.1,117.5 L259.4,121.25 L261.9,125 L262.5,128.75 L261.25,131.9 L258.75,134.4 L258.1,136.9 L256.25,135.6 L252.5,133.1 L250,130 L247.5,128.1 L244.4,128.75 L241.25,129.4 L238.75,125.6 L235,125 L230,126.25 L226.25,126.9 L223.75,126.25 L224.4,121.25Z"/>
<path fill="#a04143" d="M218.75,126.25 L223.75,126.25 L226.25,126.9 L230,126.25 L235,125 L238.75,125.6 L240,130 L238.1,135 L235.6,137.5 L235,141.25 L233.1,145 L231.9,150.6 L230,150.6 L223.75,151.25 L217.5,150.6 L212.5,150 L215,143.75 L216.9,137.5 L217.5,130 L215,127.5Z"/>
<path fill="#a04143" d="M238.75,125.6 L241.25,129.4 L244.4,128.75 L247.5,128.1 L250,130 L252.5,133.1 L256.25,135.6 L258.1,136.9 L260,138.75 L258.75,142.5 L258.1,147.5 L256.25,151.25 L254.25,153 L252.75,154.5 L249,156.75 L245.25,157.1 L240,156 L236.25,154.5 L232.5,152.25 L231.9,150.6 L233.1,145 L235,141.25 L235.6,137.5 L238.1,135 L240,130Z"/>
<path fill="#a04143" d="M274.4,108.75 L278.75,107.5 L282.5,108.75 L286.25,110 L289.4,111.9 L290,115 L289.4,118.1 L287.5,121.25 L285.6,124.4 L284.4,128.1 L281.25,126.25 L278.1,121.25 L276.9,116.9 L275,113.75Z"/>
<path fill="#ea605e" d="M279.4,105 L280,102.5 L285,103.75 L290,104.4 L295,106.25 L298.75,107.5 L298.1,110 L295,111.9 L292.5,111.25 L290,111.9 L286.25,110 L282.5,108.75 L278.75,107.5 L278.1,106.25Z"/>
<path fill="#ea605e" d="M289.4,118.1 L292.5,119.3 L296,119.7 L299.2,119.5 L298.75,120 L298.1,121.25 L298.1,126.25 L296.9,131.25 L295,133.1 L291.25,133.1 L287.5,134.4 L285.6,135 L285.6,131.25 L284.4,128.1 L285.6,124.4 L287.5,121.25Z"/>
<path fill="#ea605e" d="M290,112.2 L292,111.8 L293.5,112 L294,114 L293.6,117 L292.5,119.3 L290,118.5 L289.6,115.5Z"/>
<path fill="#ea605e" d="M293.5,112 L295,111.5 L297,110.5 L298.7,109.5 L299,113 L297,115 L295.2,114.8 L294,114Z"/>
<path fill="#ea605e" d="M293.6,117 L295,116.3 L297,115 L299,113.5 L299.3,116 L299.2,119.5 L296,119.7 L292.5,119.3Z"/>
<path fill="#ea605e" d="M292,114.6 L294,114.2 L295.3,115 L294.8,116.3 L293,116.4 L291.8,115.6Z"/>
<path fill="#ea605e" d="M298.75,107.5 L300,107.5 L305,106.9 L310,105 L312.5,110 L315.6,113.75 L318.1,116.25 L318.75,123.75 L318.1,126.25 L317.5,131.25 L313.75,132.5 L309.4,133.75 L307.5,138.1 L302.5,140 L298.75,139.4 L296.9,137.5 L296.25,132.5 L298.1,126.25 L298.75,120 L299.4,113.75Z"/>
<path fill="#ea605e" d="M310.6,76.25 L316.25,75.6 L322.5,75 L327.5,75.6 L332.5,76.25 L334.4,77.5 L333.75,82.5 L331.9,87.5 L331.25,92.5 L330.6,95.6 L328.75,96.9 L323.75,98.1 L321.9,100 L323.1,102.5 L321.9,105 L323.1,108.75 L321.25,110.6 L319.4,113.1 L318.1,116.25 L315.6,113.75 L312.5,110 L310,105 L309.4,102.5 L310,100 L310.6,95 L310,90 L310,85 L311.25,80.6Z"/>
<path fill="#ea605e" d="M330.6,95.6 L332.5,96.25 L337.5,98.75 L342.5,100 L347.5,100.6 L351.25,100 L351.9,101.25 L351.25,107.5 L350.6,112.5 L351.25,118.75 L351.25,121.25 L347.5,123.75 L345,125 L338.75,123.75 L337.5,121.25 L333.75,120 L330,121.9 L326.25,125 L322.5,125 L318.75,123.75 L318.1,116.25 L319.4,113.1 L321.25,110.6 L323.1,108.75 L321.9,105 L323.1,102.5 L321.9,100 L323.75,98.1 L328.75,96.9Z"/>
<path fill="#fec0b7" d="M334.4,77.5 L338.75,78.1 L342.5,76.9 L344.4,75 L345,72.5 L346.9,70.6 L348.75,71.25 L348.1,74.4 L348.75,78.75 L348.75,82.5 L353.1,84.4 L356.25,86.25 L358.75,88.1 L358.1,89.4 L355,90 L353.75,92.5 L353.1,97.5 L351.9,101.25 L351.25,100 L347.5,100.6 L342.5,100 L337.5,98.75 L332.5,96.25 L330.6,95.6 L331.25,92.5 L331.9,87.5 L333.75,82.5Z"/>
<path fill="#ea605e" d="M354.4,90 L358.75,90.6 L361.25,91.25 L362.5,92.5 L362.5,95 L365.6,95.6 L367.5,97.5 L368.75,102.5 L369.4,110 L370,116.25 L369.4,122.5 L369.4,125 L365,127.5 L362.5,128.1 L357.5,125 L353.75,122.5 L351.25,118.75 L350.6,112.5 L351.25,107.5 L351.9,101.25 L353.1,97.5 L353.75,92.5Z"/>
<path fill="#ea605e" d="M362.5,92.5 L365.6,91.25 L369.4,91.9 L372.5,93.1 L373.1,96.25 L374.4,101.25 L373.75,106.25 L377.5,109.4 L381.25,111.9 L383.75,114.4 L388.75,116.25 L393.75,118.75 L397.5,121.25 L400,123.75 L397.5,125 L393.75,125.6 L390,125 L385,126.9 L381.25,127.5 L377.5,128.1 L374.4,129.4 L372.5,127.5 L369.4,125 L369.4,122.5 L370,116.25 L369.4,110 L368.75,102.5 L367.5,97.5 L365.6,95.6 L362.5,95Z"/>
<path fill="#ea605e" d="M372.5,93.1 L376.25,91.9 L380,92.5 L383.75,93.1 L386.25,95.6 L389.4,98.75 L391.9,100.6 L395,100.6 L397.5,102.5 L401.25,102.5 L405,101.25 L407.5,102.5 L410,105 L408.75,107.5 L405,108.1 L400,106.9 L397.5,106.25 L396.25,110 L398.75,112.5 L401.9,113.75 L403.1,116.9 L402.5,120 L400.6,123.1 L400,123.75 L397.5,121.25 L393.75,118.75 L388.75,116.25 L383.75,114.4 L381.25,111.9 L377.5,109.4 L373.75,106.25 L374.4,101.25 L373.1,96.25Z"/>
<path fill="#ea605e" d="M410,105 L415,104.4 L418.75,105 L422.5,106.25 L423.75,107.5 L421.25,110 L420,113.75 L418.75,117.5 L416.25,120 L415.6,123.75 L415,127.5 L413.1,132.5 L411.25,135.6 L408.1,133.75 L403.75,131.25 L401.25,130 L400,126.25 L400.6,123.1 L402.5,120 L403.1,116.9 L401.9,113.75 L398.75,112.5 L396.25,110 L397.5,106.25 L400,106.9 L405,108.1 L408.75,107.5Z"/>
<path fill="#ea605e" d="M362.5,128.1 L365,127.5 L369.4,125 L372.5,127.5 L374.4,129.4 L377.5,128.1 L381.25,127.5 L385,126.9 L390,125 L393.75,125.6 L397.5,125 L400,123.75 L400,126.25 L401.25,130 L401,130.4 L398.5,136.1 L397.7,141 L396.9,145.9 L395.3,147.5 L390.4,145.1 L387.2,144.3 L383.9,143.5 L379.8,141.8 L375.8,143.5 L373.3,144.3 L370.1,141.8 L369.3,136.1 L366.8,132.9 L364.4,131.3Z"/>
<path fill="#fec0b7" d="M345.7,125.6 L345,125 L347.5,123.75 L349.8,121.5 L351.25,121.25 L353.75,122.5 L357.5,125 L362.5,128.1 L362.8,128.8 L364.4,131.3 L366.8,132.9 L369.3,136.1 L370.1,141.8 L372.5,144.3 L370.9,147.5 L369.3,150 L366,153.2 L362.8,155.7 L359.5,154 L354.6,152.4 L351.4,147.5 L349.8,144.3 L348.5,142.5 L349.3,139.6 L350.2,134.8 L348.75,131.25 L346.5,128Z"/>
<path fill="#fec0b7" d="M318.75,123.75 L322.5,125 L326.25,125 L330,121.9 L333.75,120 L337.5,121.25 L338.75,123.75 L345,125 L345.7,125.6 L346.5,128 L348.75,131.25 L350.2,134.8 L349.3,139.6 L346.1,142.1 L342,143.7 L337.2,145.3 L333.9,146.1 L329.8,145.3 L327.4,142.9 L324.1,138 L320.1,133.9 L317.6,131.5 L318.1,126.25Z"/>
<path fill="#ea605e" d="M337.2,145.3 L342,143.7 L346.1,142.1 L348.5,142.5 L349.8,144.3 L351.4,147.5 L354.6,152.4 L359.5,154 L362.8,155.7 L364.8,159.1 L365.2,163.8 L365.6,165.7 L365.2,168.7 L364.8,170.5 L361.5,175.4 L356.7,177.8 L351.8,177 L346.9,178.7 L343.7,177 L338.8,173.8 L334.7,172.2 L333.9,167.3 L333.1,164.8 L334.7,161.6 L337.2,157.5 L338,152.6 L338.8,147Z"/>
<path fill="#ea605e" d="M362.8,155.7 L366,153.2 L369.3,150 L370.9,147.5 L373.3,144.3 L375.8,143.5 L379.8,141.8 L383.9,143.5 L387.2,144.3 L390.4,145.1 L395.3,147.5 L394.5,152.4 L394.5,155.7 L393.7,155.7 L388.8,157.3 L383.9,158.9 L379,161.3 L374.1,163.8 L370.9,165.4 L367.6,167 L365.2,168.7 L365.6,165.7 L365.2,163.8 L364.8,159.1Z"/>
<path fill="#fec0b7" d="M395.3,147.5 L397.7,147.5 L400.2,150 L401.8,154 L400.2,157.3 L396.9,158.1 L394.5,155.7 L394.5,152.4Z"/>
<path fill="#fec0b7" d="M401.25,130 L403.75,131.25 L408.1,133.75 L411.25,135.6 L412.4,142.6 L411.5,149.1 L413.2,154 L409.9,157.3 L405,159.7 L401.8,158.9 L400.2,157.3 L401.8,154 L400.2,150 L397.7,147.5 L396.9,145.9 L397.7,141 L398.5,136.1 L401,130.4Z"/>
<path fill="#ea605e" d="M309.5,133.1 L312.8,132.3 L317.6,131.5 L320.1,133.9 L324.1,138 L327.4,142.9 L329.8,145.3 L333.9,146.1 L337.2,145.3 L338.8,147 L338,152.6 L337.2,157.5 L334.7,161.6 L333.1,164.8 L329,164 L324.1,161.6 L320.1,160 L314.4,159.1 L309.5,159.1 L305.4,159.1 L306.3,154.3 L307.9,151 L309.5,146.1 L310.3,141.3 L307.9,138Z"/>
<path fill="#ea605e" d="M305.4,159.1 L309.5,159.1 L314.4,159.1 L320.1,160 L324.1,161.6 L329,164 L333.1,164.8 L333.9,167.3 L334.7,172.2 L332.3,175.4 L333.1,180.3 L329.8,184.3 L325.8,186.8 L325,187.5 L322.5,188.75 L320,187.5 L316.25,187.5 L312.5,186.9 L308.75,185.6 L309.4,185 L309.5,180.3 L308.7,173.8 L307.1,167.3 L306.3,162.4Z"/>
<path fill="#a04143" d="M260,121.25 L262.5,120 L266.25,118.1 L271.25,116.9 L275,113.75 L276.9,116.9 L278.1,121.25 L281.25,126.25 L283.75,128.75 L285,130.5 L285.6,134.25 L285,138 L282.5,140.5 L278.75,141.75 L275,143 L271.25,144.25 L267.5,143 L263.75,140.5 L260,139.25 L260,138.75 L258.1,136.9 L258.75,134.4 L261.25,131.9 L262.5,128.75 L261.9,125 L259.4,121.25Z"/>
<path fill="#ea605e" d="M260,139.25 L263.75,140.5 L267.5,143 L271.25,144.25 L275,143 L276.25,144.25 L276.25,149.25 L277.5,153 L281.25,154.9 L286.25,154.9 L290,156.75 L291.25,158.6 L290,161.75 L288.75,165.5 L287.5,168 L282.5,169.9 L280,168.6 L275,168 L270,169.25 L270,168 L266.25,164.25 L265.6,160.5 L263.75,156.75 L260,154.9 L255,153.6 L257.5,149.25 L258.75,144.25Z"/>
<path fill="#ea605e" d="M275,143 L278.75,141.75 L282.5,140.5 L285,138 L285.6,135 L287.5,134.4 L291.25,133.1 L295,133.1 L296.5,133.5 L298.1,138.8 L303,139.6 L307.9,138 L310.3,141.3 L309.5,146.1 L307.9,151 L306.3,154.3 L305.4,159.1 L301.4,160 L296.5,157.5 L290,155.9 L290,156.75 L286.25,154.9 L281.25,154.9 L277.5,153 L276.25,149.25 L276.25,144.25Z"/>
<path fill="#a04143" d="M182.5,161.25 L184.4,158.75 L185,157.5 L188.75,158.1 L192.5,156.25 L193.1,152.5 L198.75,151.25 L205,149.4 L210,148.75 L213,149 L213,151 L214,154 L216,156 L215,158 L218,160 L219,163 L212,164 L210,166 L213,171 L212,171.5 L209,175 L206,175 L205,178.75 L202.5,178.1 L198.75,176.25 L195,174.4 L191.25,175 L190.6,174.4 L193.1,173.1 L191.25,171.25 L190,168.75 L192.5,166.25 L189.4,165.6 L183.75,165Z"/>
<path fill="#a04143" d="M213,149 L218,150 L224,151 L230,150.6 L231.9,150.6 L234,153 L237,154.5 L240,156 L245.25,157.1 L244.9,161.25 L243.75,165.75 L241.9,169.5 L240.4,172.1 L237,173.5 L232,173.5 L227,174.5 L221,176.5 L217,175.5 L213,173.5 L212,171.5 L213,171 L210,166 L212,164 L219,163 L218,160 L215,158 L216,156 L214,154 L213,151Z"/>
<path fill="#a04143" d="M191.25,175 L195,174.4 L198.75,176.25 L202.5,178.1 L205,178.75 L206,175 L209,175 L212,171.5 L213,173.5 L217,175.5 L221,176.5 L221.25,178.75 L222.5,183.75 L223.75,188.75 L225,195 L223,199.5 L217.5,198.75 L213.75,200 L210,200 L206.25,198.75 L202.5,196.25 L198.75,193.1 L196.9,190 L195,186.25 L192.5,182.5 L191.25,178.75Z"/>
<path fill="#a04143" d="M221,176.5 L227,174.5 L232,173.5 L237,173.5 L240.4,172.1 L238.75,177.5 L240,186.25 L239.4,192.5 L240,195 L242.5,201.25 L243.75,205.6 L240,207.5 L236.25,210 L233.75,207.5 L228.75,205.6 L223.75,202.5 L223,199.5 L225,195 L223.75,188.75 L222.5,183.75 L221.25,178.75Z"/>
<path fill="#ea605e" d="M245.25,157.1 L249,156.75 L252.75,154.5 L254.25,153 L255,153.6 L260,154.9 L263.75,156.75 L265.6,160.5 L266.25,164.25 L270,168 L270,169.25 L271.25,170 L270,172.5 L267.5,176.25 L265,177.5 L263.75,182.5 L261.25,186.25 L260,185 L257.5,181.25 L253.75,177.5 L247.5,178.75 L243.75,175 L240.4,172.1 L241.9,169.5 L243.75,165.75 L244.9,161.25Z"/>
<path fill="#ea605e" d="M240.4,172.1 L243.75,175 L247.5,178.75 L253.75,177.5 L257.5,181.25 L260,185 L261.25,186.25 L260.6,190 L263.75,192.5 L266.25,195 L267.5,197.8 L263.75,199.4 L260,201.25 L258.75,203.75 L258.5,205 L257.5,206.25 L253.75,206.9 L250,206.25 L246.25,207.5 L242.5,206.9 L243.75,205.6 L242.5,201.25 L240,195 L239.4,192.5 L240,186.25 L238.75,177.5Z"/>
<path fill="#ea605e" d="M210,200 L213.75,200 L217.5,198.75 L223,199.5 L223.75,202.5 L228.75,205.6 L233.75,207.5 L236.25,210 L236.9,212.5 L235,216.25 L230,217.5 L228.1,218.1 L230,222.5 L232.5,227.5 L231.25,231.25 L232.5,233.75 L236.25,236.25 L238.75,237.5 L236.25,238.75 L232.5,239.4 L228.75,237.5 L225,235 L221.9,233.75 L221.25,232.5 L219.4,229.4 L216.25,226.25 L212.5,223.75 L211.5,222.5 L210.6,220 L211.25,215 L212.5,211.25 L213.75,206.25 L212.5,202.5Z"/>
<path fill="#ea605e" d="M236.25,210 L240,207.5 L242.5,206.9 L246.25,207.5 L250,206.25 L253.75,206.9 L258.5,205 L258.75,208.75 L259.4,212.5 L257.5,215 L256.25,218.1 L254.4,220.6 L253.75,222 L250,226.25 L245,231.25 L241.25,235 L238.75,237.5 L236.25,236.25 L232.5,233.75 L231.25,231.25 L232.5,227.5 L230,222.5 L228.1,218.1 L230,217.5 L235,216.25 L236.9,212.5Z"/>
<path fill="#ea605e" d="M270,169.25 L275,168 L280,168.6 L282.5,169.9 L285,172.5 L287.5,177.5 L288.75,182.5 L289.4,188.75 L290,195 L291.25,196.25 L292.8,196.4 L290,196.6 L286.25,196.8 L281.25,197.3 L276.25,197.6 L272.5,198.5 L267.5,197.8 L266.25,195 L263.75,192.5 L260.6,190 L261.25,186.25 L263.75,182.5 L265,177.5 L267.5,176.25 L270,172.5 L271.25,170Z"/>
<path fill="#ea605e" d="M290,156.75 L290,155.9 L296.5,157.5 L301.4,160 L305.4,159.1 L306.3,162.4 L307.1,167.3 L308.7,173.8 L309.5,180.3 L309.4,185 L308.75,185.6 L305,187.5 L300,190 L298.75,193.75 L293.75,194.4 L291.25,196.25 L290,195 L289.4,188.75 L288.75,182.5 L287.5,177.5 L285,172.5 L282.5,169.9 L287.5,168 L288.75,165.5 L290,161.75 L291.25,158.6Z"/>
<path fill="#c2feb6" d="M292.8,196.4 L293.75,194.4 L298.75,193.75 L300,190 L305,187.5 L308.75,185.6 L312.5,186.9 L316.25,187.5 L320,187.5 L322.5,188.75 L325,187.5 L326.9,191.5 L331,194.8 L331.8,198 L330.2,201.3 L326.9,202.9 L326.1,207.8 L326.9,211 L323.7,211.8 L318.8,210.2 L313.9,208.6 L309,207 L306.6,203.7 L302.5,204.5 L300.1,206.1 L297.6,202.9 L294.4,199.6Z"/>
<path fill="#fec0b7" d="M272.5,198.5 L276.25,197.6 L281.25,197.3 L286.25,196.8 L290,196.6 L292.8,196.4 L294.4,199.6 L297.6,202.9 L300.1,206.1 L299.3,211 L298.1,213.75 L297.5,217.5 L296.25,221.25 L292.5,221.9 L288.75,221.25 L285,220.6 L283.75,220 L281.25,217.5 L277.5,215 L275,212.5 L273.75,207.5 L271.9,203.75Z"/>
<path fill="#fec0b7" d="M258.75,202.5 L262.5,200 L267.5,197.8 L272.5,198.5 L271.9,203.75 L273.75,207.5 L275,212.5 L277.5,215 L281.25,217.5 L283.75,220 L280,222.5 L276.25,223.75 L272.5,225 L270,228.1 L266.25,227.5 L263.75,225.6 L260,224.4 L256.25,222.5 L254.4,220.6 L256.25,218.1 L257.5,215 L259.4,212.5 L258.75,208.75 L258.5,205Z"/>
<path fill="#ea605e" d="M283.75,220 L285,220.6 L288.75,221.25 L292.5,221.9 L296.25,221.25 L297.6,222.4 L296.8,225.7 L298.5,229.7 L295,230.5 L292.5,232.5 L291.25,236.25 L290,241.25 L287.5,243.75 L282.5,244.4 L277.5,243.1 L272.5,243.75 L271.9,243.75 L270,241.25 L268.75,236.25 L269.4,231.25 L270,228.1 L272.5,225 L276.25,223.75 L280,222.5Z"/>
<path fill="#fec0b7" d="M253.75,222 L256.25,222.5 L260,224.4 L263.75,225.6 L266.25,227.5 L270,228.1 L269.4,231.25 L268.75,236.25 L270,241.25 L271.9,243.75 L271.25,246.25 L269.4,250 L267.5,253.75 L265,256.25 L262.5,258.75 L261.25,257.5 L257.5,255.6 L252.5,254.4 L247.5,255 L245,251.25 L243.75,248.75 L238.75,248.75 L237.5,246.25 L239.4,242.5 L238.75,238.75 L238.75,237.5 L241.25,235 L245,231.25 L250,226.25Z"/>
<path fill="#c2feb6" d="M300.1,206.1 L302.5,204.5 L306.6,203.7 L309,207 L313.9,208.6 L318.8,210.2 L323.7,211.8 L326.9,211 L326.1,215.9 L327.7,220.8 L331,225.7 L331.8,229.7 L328.5,231.3 L323.7,231.3 L318.8,232.2 L315.5,232.2 L312.3,233 L307.4,231.3 L302.5,230.5 L298.5,229.7 L296.8,225.7 L297.6,222.4 L296.25,221.25 L297.5,217.5 L298.1,213.75 L299.3,211Z"/>
<path fill="#c2feb6" d="M326.9,202.9 L330.2,201.3 L331.25,203.1 L333.75,202.5 L337.5,203.75 L340,201.9 L341.25,206.25 L340,210 L341.25,215 L340,220 L342.5,222.5 L346.25,225 L350,225.6 L351.25,227.5 L351.9,231 L347.5,233.75 L344.5,235.5 L340,232.5 L336.25,231.9 L332.5,231.9 L331.8,229.7 L331,225.7 L327.7,220.8 L326.1,215.9 L326.9,211 L326.1,207.8Z"/>
<path fill="#ea605e" d="M210.4,225 L212.6,227.2 L215.6,229.9 L218.6,232.4 L220.9,234.6 L222.8,238.6 L224.9,243.4 L223.3,238.6 L222.3,235.8 L221.9,233.75 L225,235 L228.75,237.5 L232.5,239.4 L236.25,238.75 L238.75,237.5 L238.75,238.75 L239.4,242.5 L237.5,246.25 L238.75,248.75 L243.75,248.75 L245,249.4 L243.75,252.5 L240,255 L236.25,258.75 L237.5,261.25 L235,265 L233.75,267.5 L231.25,270 L228.75,268.75 L225,265.6 L221.25,262.5 L217.5,261.25 L212.5,260.6 L207.5,260 L207.5,255 L208.1,248.75 L209.4,242.5 L210,236.25 L210.3,230Z"/>
<path fill="#fec0b7" d="M207.5,260 L212.5,260.6 L217.5,261.25 L221.25,262.5 L225,265.6 L228.75,268.75 L231.25,270 L233.75,267.5 L235,269.4 L236.25,271.9 L240,273.75 L238.75,277.5 L232.5,279.4 L231.25,283.75 L230.6,290 L227.5,291.25 L222.5,291.9 L217.5,291.25 L212.5,291.9 L207.5,292.5 L202.5,293.1 L199.5,293.75 L201.9,287.5 L203.75,278.75 L205.6,270Z"/>
<path fill="#ea605e" d="M199.5,293.75 L202.5,293.1 L207.5,292.5 L212.5,291.9 L217.5,291.25 L222.5,291.9 L227.5,291.25 L230.6,290 L235,291.9 L236.25,295 L235.6,300 L233.75,303.75 L231.25,307.5 L229.4,311.25 L228.1,315 L226.25,316.9 L222.5,316.9 L220,315 L217.5,313.1 L213.75,311.9 L210,310 L206.25,308.1 L202.5,307.5 L200.6,305.6 L200.6,302.5 L198.75,300 L196,297.6 L193,296.6 L195.5,295.3 L197.5,294.6Z"/>
<path fill="#fec0b7" d="M235,291.9 L236.25,293.75 L238.75,293.75 L240,296.25 L242.5,298.1 L247.5,298.75 L251.25,300 L250,303.75 L247.5,307.5 L250,311.25 L248.75,315 L247.5,320 L245,321.25 L241.25,321.9 L237.5,321.25 L233.75,320 L230.6,317.5 L228.75,315.6 L229.4,311.25 L231.25,307.5 L233.75,303.75 L235.6,300 L236.25,295Z"/>
<path fill="#a04143" d="M232.5,279.4 L238.75,277.5 L242.5,277.5 L247.5,276.25 L252.5,275.6 L256.25,276.25 L256.9,280 L258.75,283.75 L261.25,286.25 L263.75,290 L265.6,292.5 L263.75,293.75 L262.5,295 L261.25,298.1 L257.5,298.75 L253.75,299.4 L251.25,300 L247.5,298.75 L242.5,298.1 L240,296.25 L238.75,293.75 L236.25,293.75 L235,291.9 L230.6,290 L231.25,283.75Z"/>
<path fill="#fec0b7" d="M243.75,248.75 L245,251.25 L247.5,255 L252.5,254.4 L257.5,255.6 L261.25,257.5 L262.5,258.75 L262.5,260 L261.9,262.5 L262.5,265 L258.75,266.25 L259.4,270 L258.75,273.75 L256.25,276.25 L252.5,275.6 L247.5,276.25 L242.5,277.5 L238.75,277.5 L240,273.75 L236.25,271.9 L235,269.4 L233.75,267.5 L235,265 L237.5,261.25 L236.25,258.75 L240,255 L243.75,252.5 L245,249.4Z"/>
<path fill="#fec0b7" d="M271.9,243.75 L272.5,243.75 L277.5,243.1 L282.5,244.4 L287.5,243.75 L288.6,243.5 L288.75,247.5 L290,255 L290,256.25 L287.5,258.1 L285,259.4 L282.5,261.25 L281.9,263.75 L282.5,267.5 L280,268.1 L276.25,268.75 L272.5,269.4 L267.5,267.5 L262.5,265 L261.9,262.5 L262.5,260 L262.5,258.75 L265,256.25 L267.5,253.75 L269.4,250 L271.25,246.25Z"/>
<path fill="#ea605e" d="M258.75,266.25 L262.5,265 L267.5,267.5 L272.5,269.4 L276.25,268.75 L280,268.1 L282.5,267.5 L283.75,270.6 L282.5,273.1 L278.75,273.75 L276.25,276.25 L275.6,280 L271.25,281.25 L267.5,282.5 L263.75,283.75 L260,282.5 L256.9,280 L256.25,276.25 L258.75,273.75 L259.4,270Z"/>
<path fill="#ea605e" d="M283.75,270.6 L287.5,271.9 L291.25,272.5 L295,275 L297.5,278.75 L300,282.5 L302.5,286.25 L306.25,287.5 L305,288 L301,291 L301,295 L300,296.25 L299.5,298.8 L296.25,298 L292.5,298.2 L288.75,297.6 L285,297.6 L282,297.6 L281.5,292.5 L278.75,287.5 L275.6,280 L276.25,276.25 L278.75,273.75 L282.5,273.1Z"/>
<path fill="#fec0b7" d="M258.75,283.75 L260,282.5 L263.75,283.75 L267.5,282.5 L271.25,281.25 L275.6,280 L278.75,287.5 L281.5,292.5 L282,297.6 L280,299.5 L278.75,301.25 L277.5,303.75 L273.75,302.5 L270.6,303.1 L268.75,302.5 L266.25,306.25 L262.5,307.5 L260,310 L256.25,313.75 L256.9,315.6 L255,317.5 L252.5,320 L247.5,320 L248.75,315 L250,311.25 L247.5,307.5 L250,303.75 L251.25,300 L253.75,299.4 L257.5,298.75 L261.25,298.1 L262.5,295 L263.75,293.75 L265.6,292.5 L263.75,290 L261.25,286.25Z"/>
<path fill="#ea605e" d="M256.25,313.75 L260,310 L262.5,307.5 L266.25,306.25 L268.75,302.5 L270.6,303.1 L273.75,302.5 L277.5,303.75 L280,306.25 L283.75,308.75 L285,313.75 L283.75,318.75 L286.25,321.25 L288.75,323.1 L283.75,325 L280,325.6 L276.25,325 L272.5,324.4 L270,322.5 L266.25,321.25 L262.5,320 L258.75,317.5 L256.9,315.6Z"/>
<path fill="#fec0b7" d="M277.5,303.75 L278.75,301.25 L280,299.5 L282,297.6 L285,297.6 L288.75,297.6 L292.5,298.2 L296.25,298 L299.5,298.8 L300,300 L302.5,302.5 L306.25,303.75 L310,305 L312.5,307.5 L311.25,311.25 L310,315 L310,317.5 L306.25,316.9 L302.5,316.25 L298.75,316.9 L295,317.5 L292.5,320 L290,321.9 L288.75,323.1 L286.25,321.25 L283.75,318.75 L285,313.75 L283.75,308.75 L280,306.25Z"/>
<path fill="#ea605e" d="M288.75,323.1 L290,321.9 L292.5,320 L295,317.5 L298.75,316.9 L302.5,316.25 L306.25,316.9 L310,317.5 L310.6,321.25 L311.25,325 L312.5,327.5 L313.75,330 L310,331.25 L305,331.9 L301.25,333.1 L297.5,334.4 L292.5,332.5 L287.5,331.25 L283.75,329.4 L280,327.5 L278.75,326.25 L280,325.6 L283.75,325Z"/>
<path fill="#429e43" d="M298.5,229.7 L302.5,230.5 L307.4,231.3 L312.3,233 L314.7,237 L316.3,241.9 L316.9,240 L316.25,245 L312.5,248.75 L310,252.5 L308.1,255 L306.25,251.25 L303.75,248.75 L301.25,250 L297.5,253.75 L293.75,256.25 L290,255 L288.75,247.5 L288.6,243.5 L290,241.25 L291.25,236.25 L292.5,232.5 L295,230Z"/>
<path fill="#429e43" d="M312.3,233 L315.5,232.2 L318.8,232.2 L323.7,231.3 L328.5,231.3 L331.8,229.7 L332.5,231.9 L336.25,231.9 L340,232.5 L344.5,235.5 L344.5,238.5 L342,242 L339.5,245.5 L335.5,249 L332.5,250 L331.25,252.5 L328.75,251.9 L325,250 L321.25,250 L318.75,247.5 L316.25,245 L316.9,240 L314.7,237Z"/>
<path fill="#c2feb6" d="M308.1,255 L310,252.5 L312.5,248.75 L316.25,245 L318.75,247.5 L321.25,250 L325,250 L328.75,251.9 L331.25,252.5 L330.6,256.25 L332.5,261.25 L333.1,265 L332.5,271.25 L331.25,273.1 L326.25,273.1 L322.5,273.75 L318.75,272.5 L315,271.25 L313.1,267.5 L312.5,262.5 L311.25,258.75 L309.4,256.25Z"/>
<path fill="#fec0b7" d="M290,255 L293.75,256.25 L297.5,253.75 L301.25,250 L303.75,248.75 L306.25,251.25 L308.1,255 L309.4,256.25 L311.25,258.75 L312.5,262.5 L313.1,267.5 L315,271.25 L317.5,273.75 L316.25,276.25 L318.75,278.75 L320,283 L316,282 L312,284 L311,286 L308,288.5 L306.25,287.5 L302.5,286.25 L300,282.5 L297.5,278.75 L295,275 L291.25,272.5 L287.5,271.9 L283.75,270.6 L282.5,267.5 L281.9,263.75 L282.5,261.25 L285,259.4 L287.5,258.1 L290,256.25Z"/>
<path fill="#fec0b7" d="M334.7,172.2 L338.8,173.8 L343.7,177 L346.9,178.7 L351.8,177 L356.7,177.8 L361.5,175.4 L361.25,176.25 L363.75,180 L365,182.5 L363.75,186.25 L365,188.75 L365,193.75 L362.5,194.4 L360,193.1 L356.25,192.5 L353.75,193.75 L351.25,196.25 L350.6,200 L350,203.75 L348.1,201.25 L345,200 L342.5,200.6 L340,201.9 L337.5,203.75 L333.75,202.5 L331.25,203.1 L330.2,201.3 L331.8,198 L331,194.8 L326.9,191.5 L325,187.5 L325.8,186.8 L329.8,184.3 L333.1,180.3 L332.3,175.4Z"/>
<path fill="#fec0b7" d="M365.2,168.7 L367.6,167 L370.9,165.4 L372.5,170.3 L375,175.2 L379,180 L381.25,182.5 L382.5,186.25 L380,190 L377.5,195 L378.75,197.5 L375,198.75 L371.25,200 L367.5,198.75 L365,195 L365,193.75 L365,188.75 L363.75,186.25 L365,182.5 L363.75,180 L361.25,176.25 L361.5,175.4 L364.8,170.5Z"/>
<path fill="#fec0b7" d="M367.6,167 L370.9,165.4 L374.1,163.8 L379,161.3 L383.9,158.9 L388.8,157.3 L393.7,155.7 L394.5,155.7 L396.9,158.1 L400.2,157.3 L401.8,158.9 L405,159.7 L400.2,162.2 L398.5,165.4 L395.3,170.3 L390.4,175.2 L387.2,180 L382.5,186.25 L381.25,182.5 L379,180 L375,175.2 L372.5,170.3Z"/>
<path fill="#c2feb6" d="M350.6,200 L351.25,196.25 L353.75,193.75 L357.5,193.1 L361.25,194.4 L363.75,191.25 L365,193.75 L365,195 L367.5,198.75 L371.25,200 L375,198.75 L378.75,198.75 L381.25,196.25 L382.5,197.5 L381.25,200 L378.75,202.5 L376.25,206.25 L375.6,210 L375.6,215 L373.75,220 L371.9,222.5 L370,220 L366.25,216.25 L363.75,214.4 L361.25,216.25 L358.75,217.5 L355,216.25 L352.5,215 L350.6,212.5 L351.25,208.75 L350.6,205Z"/>
<path fill="#fec0b7" d="M340,201.9 L342.5,200.6 L345,200 L348.1,201.25 L350,203.75 L350.6,205 L351.25,208.75 L350.6,212.5 L352.5,215 L355,216.25 L358.75,217.5 L358.75,220 L356.25,222.5 L352.5,225 L351.25,227.5 L350,225.6 L346.25,225 L342.5,222.5 L340,220 L341.25,215 L340,210 L341.25,206.25Z"/>
<path fill="#fec0b7" d="M382.5,197.5 L385,198.75 L386.25,196.25 L390,195.5 L396,194.75 L399,199 L400.5,204.5 L403.5,209 L403.5,212.7 L399,215.7 L394.5,215 L391.5,212.7 L387.7,217 L384,218.7 L379.5,217 L375.6,215 L375.6,210 L376.25,206.25 L378.75,202.5 L381.25,200Z"/>
<path fill="#fec0b7" d="M375.6,215 L379.5,217 L384,218.7 L387.7,217 L391.5,212.7 L394.5,215 L399,215.7 L403.5,212.7 L405,221 L407.5,225 L408.1,230 L406.9,233.75 L403.75,236.25 L400,237.5 L396.25,238.1 L392.5,238.75 L390,239.4 L386.9,238.75 L384.4,236.25 L383.75,232.5 L382.5,228.75 L380,226.9 L377.5,227.5 L373.75,227.5 L372.5,223.75 L371.9,222.5 L373.75,220Z"/>
<path fill="#c2feb6" d="M358.75,220 L358.75,217.5 L361.25,216.25 L363.75,214.4 L366.25,216.25 L370,220 L371.9,222.5 L372.5,223.75 L373.75,227.5 L377.5,227.5 L380,226.9 L382.5,228.75 L383.75,232.5 L384.4,236.25 L386.9,238.75 L386.25,242.5 L388.75,246.25 L385,247.5 L381.25,248.75 L377.5,251.25 L376.25,252.5 L373.75,252.5 L370,250 L368.75,245 L367.5,240.6 L362.5,240.6 L361.25,237.5 L360,233.75 L356.25,232.5 L351.9,232.5 L351.9,231 L351.25,227.5 L352.5,225 L356.25,222.5Z"/>
<path fill="#c2feb6" d="M373.75,252.5 L376.25,252.5 L377.5,251.25 L381.25,248.75 L385,247.5 L388.75,246.25 L386.25,242.5 L386.9,238.75 L390,239.4 L392.5,238.75 L396.25,238.1 L397.5,241.25 L400,243.75 L402.5,246.25 L405,248.75 L406.9,251.25 L405,253.75 L403.75,255 L401.25,256.25 L398.75,257.5 L396.25,258.75 L391.25,258.75 L388.75,261.25 L386.25,261.25 L383.75,262.5 L381.25,263.75 L380,266.25 L377.5,267.5 L373.75,266.25 L371.25,263.75 L370,260 L372.5,256.25Z"/>
<path fill="#c2feb6" d="M351.9,232.5 L356.25,232.5 L360,233.75 L361.25,237.5 L362.5,240.6 L367.5,240.6 L368.75,245 L370,250 L373.75,252.5 L372.5,256.25 L370,260 L371.25,263.75 L373.75,266.25 L371.25,268.5 L367.5,267.5 L363.75,267.5 L360,268 L356.25,266.5 L352.5,268 L348.75,266 L350,260 L351.25,255 L352.5,250 L353.75,245 L353.1,238.75Z"/>
<path fill="#c2feb6" d="M344.5,235.5 L347.5,233.75 L351.9,231 L351.9,232.5 L353.1,238.75 L353.75,245 L352.5,250 L351.25,255 L350,260 L348.75,265 L346.25,267.5 L341.25,266.9 L337.5,267.5 L333.75,265 L332.5,261.25 L330.6,256.25 L331.25,252.5 L332.5,250 L335.5,249 L339.5,245.5 L342,242 L344.5,238.5Z"/>
<path fill="#fec0b7" d="M348.75,266 L352.5,268 L356.25,266.5 L360,268 L363.75,267.5 L367.5,267.5 L371.25,268.5 L370,270 L371.7,275 L370,280 L373.3,283.3 L375,287 L370,287.8 L365,286.5 L360,284.5 L355,282.3 L352.5,281.7 L351.7,276.7 L350.8,271.7 L350,266.7Z"/>
<path fill="#fec0b7" d="M370,270 L371.25,268.5 L373.75,266.25 L377.5,267.5 L380,266.25 L381.25,263.75 L383.75,262.5 L386.25,261.25 L388.75,261.25 L391.25,258.75 L396.25,258.75 L398.75,257.5 L401.25,256.25 L403.75,255 L404.4,257.5 L403.75,261.25 L401.7,263.3 L400,268.3 L400,275 L403.3,279.2 L401.7,281.7 L400,281.7 L395,283.3 L390,282.5 L385,283.3 L380,285 L376.7,285.8 L375,285.8 L373.3,283.3 L370,280 L371.7,275Z"/>
<path fill="#fec0b7" d="M401.7,263.3 L403.75,261.25 L408.3,265.8 L413.3,268.3 L418.3,267.5 L422.5,268.3 L423.3,273.3 L420,278.3 L415,281.7 L411.7,283.3 L408.3,286.7 L405,290 L403.3,286.7 L401.7,281.7 L403.3,279.2 L400,275 L400,268.3Z"/>
<path fill="#ea605e" d="M376.7,285.8 L380,285 L385,283.3 L390,282.5 L395,283.3 L400,281.7 L401.7,281.7 L403.3,286.7 L405,290 L403.3,293.3 L400,298.3 L396.7,301.7 L393.3,305 L388.3,306.7 L383.3,305 L378.3,303.3 L376.7,300 L376.7,293.3 L375,290 L375,287Z"/>
<path fill="#a04143" d="M341,295 L345,292 L348,288 L351,283 L352.5,281.7 L355,282.3 L360,284.5 L365,286.5 L370,287.8 L375,287 L375,290 L376.7,293.3 L376.7,300 L375,303.3 L370,303.3 L366.7,300 L361.7,299.2 L356.7,298.3 L353.3,297.5 L348.3,296.7 L345,295.8 L342,296Z"/>
<path fill="#fec0b7" d="M333.1,265 L335,266.7 L337.5,267.5 L341.25,266.9 L346.25,267.5 L348.75,265 L350,266.7 L350.8,271.7 L351.7,276.7 L352.5,281.7 L351,283 L348,288 L345,292 L341,295 L339,294 L338,290 L337,288 L334,285 L331,282 L328,279.5 L326,280 L323,282 L320,283 L318.75,278.75 L316.25,276.25 L317.5,273.75 L318.75,272.5 L322.5,273.75 L326.25,273.1 L331.25,273.1 L332.5,271.25Z"/>
<path fill="#ea605e" d="M301,289 L305,288 L308,288.5 L311,286 L312,284 L316,282 L320,283 L323,282 L326,280 L328,279.5 L331,282 L334,285 L337,288 L338,290 L335,292 L332,294 L328,297 L324,300 L320,302 L316,304 L313,306 L312.5,307.5 L310,305 L306.25,303.75 L302.5,302.5 L300,300 L299,298 L301,295 L301,291Z"/>
<path fill="#a04143" d="M466.4,303.9 L468.6,303.9 L469.5,306.1 L470.4,309.6 L470.8,314 L471.2,316.6 L472.6,320.1 L472.75,325 L473.7,329.6 L473.2,334.25 L471.8,338 L470.4,340.7 L469,342.6 L468.1,342.6 L467.2,338.9 L465.35,335.2 L462.1,332.4 L458.9,330.55 L455.2,328.7 L451.5,327.8 L448.7,326.85 L448.5,327.1 L449.4,325.4 L450.7,322.7 L451.6,320.1 L453.7,318.4 L456.4,317.5 L459,316.2 L460.3,314.4 L462.5,313.6 L465.1,314 L466.4,313.1 L466,308.7Z"/>
<path fill="#ea605e" d="M448.7,326.85 L451.5,327.8 L455.2,328.7 L458.9,330.55 L462.1,332.4 L465.35,335.2 L467.2,338.9 L468.1,342.6 L469,342.6 L470,343.5 L470.9,347.2 L471.8,350.9 L470.9,353.7 L470,356.45 L469,359.2 L467.2,358.8 L464.9,357.4 L462.6,356.45 L459.8,355.1 L457,353.2 L456.1,350.9 L458,349.5 L457,349 L454.25,348.1 L452.4,346.3 L454.25,344.4 L452.4,343.5 L450.55,341.65 L452.4,339.8 L451.5,338 L452.4,336.1 L450.55,334.25 L449.6,332.4 L450.55,330.55 L448.7,328.7Z"/>
</g>

<g stroke="#000" stroke-width="0.8">
<ellipse cx="168" cy="162.6" rx="2.3" ry="1.1" transform="rotate(-20 168 162.6)" fill="#a04143"/>
<ellipse cx="186" cy="184.5" rx="1.3" ry="0.8" fill="#a04143"/>
<path d="M187.6,173.6 L188.6,175 L189.4,177 L188.6,177.2 L187.8,175.4Z" fill="#a04143"/>
<path d="M203,200.6 L206.5,201.3 L210,202.8 L209.5,203.6 L205.5,202.4 L202.8,201.4Z" fill="#ea605e"/>
<path d="M206.2,207 L208.5,208.6 L210.6,211.5 L211.4,214 L210.2,214.2 L208,211.4 L206.4,209Z" fill="#ea605e"/>
<path d="M165.5,152.2 L167.8,153.2 L167.2,153.8Z" fill="#a04143"/>
<ellipse cx="136.5" cy="120.2" rx="1" ry="0.6" fill="#ea605e"/>
</g>
<g fill="none" stroke="#000" stroke-width="0.9">
<path d="M190.2,166.3 Q195,165.2 199,168.6"/>
<path d="M176,154.3 L178.5,154.6"/>
</g>
<path d="M208.9,253.6 q1.5,-2.4 3.7,-0.7 q0.9,1.5 -0.6,1.9 q-1.9,0.3 -3.1,-1.2Z" fill="#fff" stroke="#000" stroke-width="0.7"/>
<path d="M359.5,295.2 q1.7,-1.6 3.3,-0.4 q0.6,1.6 -1,2.4 q-1.8,0.2 -2.3,-2Z" fill="#fff" stroke="#000" stroke-width="0.6"/>

<g stroke="#000" stroke-opacity="0.45" stroke-width="0.9">
<rect x="18.5" y="226.5" width="14.5" height="7" fill="#a04143"/>
<rect x="18.5" y="256" width="14.5" height="7" fill="#ea605e"/>
<rect x="18.5" y="285.5" width="14.5" height="7" fill="#fec0b7"/>
<rect x="18.5" y="315" width="14.5" height="7" fill="#c2feb6"/>
<rect x="18.5" y="344.5" width="14.5" height="7" fill="#2ae62c"/>
<rect x="18.5" y="374" width="14.5" height="7" fill="#429e43"/>
</g>
</svg>
<div class="t">Présidence LR 2025 : Laurent Wauquiez (25,69%)</div>
<div class="lg" style="top:223.7px">2,58 - 15,00</div>
<div class="lg" style="top:253.2px">15,00 - 25,00</div>
<div class="lg" style="top:282.7px">25,00 - 50,00</div>
<div class="lg" style="top:312.2px">50,00 - 75,00</div>
<div class="lg" style="top:341.7px">75,00 - 85,00</div>
<div class="lg" style="top:371.2px">85,00 - 96,23</div>
<div class="f">Tous droits réservés Laurent de Boissieu pour France-politique.fr</div>
</body></html>
